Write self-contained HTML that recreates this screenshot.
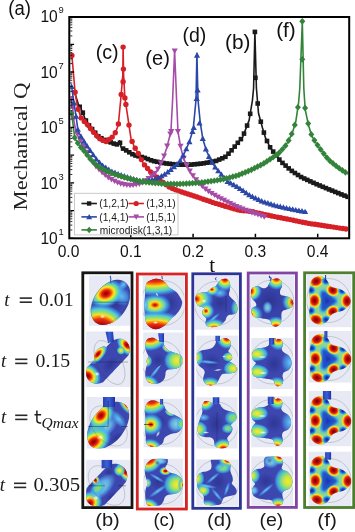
<!DOCTYPE html><html><head><meta charset="utf-8"><style>html,body{margin:0;padding:0;background:#fff;}svg{display:block;} text{opacity:0.999}</style></head><body><svg width="355" height="532" viewBox="0 0 355 532">
<defs>
<radialGradient id="gjet"><stop offset="0" stop-color="#780000"/><stop offset="0.12" stop-color="#b80808"/><stop offset="0.24" stop-color="#e42212"/><stop offset="0.34" stop-color="#fa7a08"/><stop offset="0.43" stop-color="#fcd418"/><stop offset="0.51" stop-color="#d8ec3c"/><stop offset="0.61" stop-color="#86dc74"/><stop offset="0.73" stop-color="#4ccad8"/><stop offset="0.86" stop-color="#48b0ee" stop-opacity="0.55"/><stop offset="1" stop-color="#4898e8" stop-opacity="0"/></radialGradient>
<radialGradient id="gjs"><stop offset="0" stop-color="#a80c0c"/><stop offset="0.1" stop-color="#e02a12"/><stop offset="0.2" stop-color="#fa8c0a"/><stop offset="0.3" stop-color="#f6e02a"/><stop offset="0.44" stop-color="#a6e262"/><stop offset="0.6" stop-color="#5ccfc4"/><stop offset="0.78" stop-color="#42a8f0" stop-opacity="0.7"/><stop offset="1" stop-color="#4090f0" stop-opacity="0"/></radialGradient>
<radialGradient id="gband"><stop offset="0" stop-color="#800000"/><stop offset="0.35" stop-color="#c00808"/><stop offset="0.5" stop-color="#e83010"/><stop offset="0.58" stop-color="#fa8a08"/><stop offset="0.65" stop-color="#f4e028"/><stop offset="0.74" stop-color="#90e070"/><stop offset="0.84" stop-color="#50c8d8"/><stop offset="0.93" stop-color="#40a0f0" stop-opacity="0.6"/><stop offset="1" stop-color="#4090f0" stop-opacity="0"/></radialGradient>
<radialGradient id="glite"><stop offset="0" stop-color="#88dcd8" stop-opacity="0.95"/><stop offset="0.5" stop-color="#6cc4f0" stop-opacity="0.8"/><stop offset="0.8" stop-color="#58a8f0" stop-opacity="0.4"/><stop offset="1" stop-color="#5090f0" stop-opacity="0"/></radialGradient>
<radialGradient id="gyel"><stop offset="0" stop-color="#f6ea30"/><stop offset="0.3" stop-color="#c8e448"/><stop offset="0.55" stop-color="#70d890"/><stop offset="0.8" stop-color="#40b8f0" stop-opacity="0.8"/><stop offset="1" stop-color="#40a0f0" stop-opacity="0"/></radialGradient>
<radialGradient id="ggrn"><stop offset="0" stop-color="#98da58"/><stop offset="0.4" stop-color="#68d4a0"/><stop offset="0.75" stop-color="#40b0f0" stop-opacity="0.7"/><stop offset="1" stop-color="#40a0f0" stop-opacity="0"/></radialGradient>
<radialGradient id="gcyan"><stop offset="0" stop-color="#68d0f8" stop-opacity="0.95"/><stop offset="0.6" stop-color="#50a8f0" stop-opacity="0.6"/><stop offset="1" stop-color="#4090f0" stop-opacity="0"/></radialGradient>
<radialGradient id="gwhite"><stop offset="0" stop-color="#ffffff" stop-opacity="0.95"/><stop offset="1" stop-color="#ffffff" stop-opacity="0"/></radialGradient>
<radialGradient id="gdark"><stop offset="0" stop-color="#24287c" stop-opacity="0.55"/><stop offset="1" stop-color="#24287c" stop-opacity="0"/></radialGradient>
<radialGradient id="gfred"><stop offset="0" stop-color="#700000"/><stop offset="0.28" stop-color="#b80a0a"/><stop offset="0.48" stop-color="#e42414"/><stop offset="0.62" stop-color="#fa8a08"/><stop offset="0.74" stop-color="#f6e028"/><stop offset="0.87" stop-color="#c8e450" stop-opacity="0.7"/><stop offset="1" stop-color="#b0e060" stop-opacity="0"/></radialGradient><filter id="bl1" x="-30%" y="-30%" width="160%" height="160%"><feGaussianBlur stdDeviation="0.9"/></filter>
<radialGradient id="gfblue"><stop offset="0" stop-color="#14208e"/><stop offset="0.35" stop-color="#2048c8"/><stop offset="0.62" stop-color="#2c90e8"/><stop offset="0.82" stop-color="#40c8e0" stop-opacity="0.8"/><stop offset="1" stop-color="#60d0c0" stop-opacity="0"/></radialGradient>
<linearGradient id="gstem" x1="0" x2="1"><stop offset="0" stop-color="#2a40b8"/><stop offset="0.5" stop-color="#3a60d8"/><stop offset="1" stop-color="#2030a0"/></linearGradient>
<clipPath id="plotclip"><rect x="70.3" y="18" width="277.9" height="219.3"/></clipPath></defs>
<rect width="355" height="532" fill="#fff"/>
<g clip-path="url(#plotclip)">
<g fill="#1a1a1a"><path d="M73.5,90.0 L76.1,97.0 L78.4,104.5 L82.3,111.3 L84.6,117.5 L87.0,123.0 L93.4,130.6 L98.4,136.4 L103.5,139.4 L106.9,141.0 L113.6,143.5 L117.4,144.5 L119.5,140.8 L121.2,147.5 L128.0,151.5 L133.9,155.1 L144.0,157.6 L152.7,160.9 L165.4,163.4 L178.0,164.7 L190.7,164.7 L203.4,163.4 L216.1,160.9 L225.0,157.2 L230.1,152.1 L236.4,144.5 L242.7,136.9 L249.1,120.4 L252.4,100.6 L253.6,88.0 L254.9,31.9 L256.4,88.0 L258.5,113.3 L262.5,128.0 L265.6,138.2 L270.6,148.3 L275.7,154.7 L280.8,161.4 L290.9,170.3 L301.0,177.0 L315.0,183.5 L328.0,189.0 L348.0,197.0" fill="none" stroke="#1a1a1a" stroke-width="1.6" stroke-linejoin="round"/><rect x="77.4" y="104.5" width="4.6" height="4.6"/><rect x="80.5" y="110.4" width="4.6" height="4.6"/><rect x="83.6" y="118.2" width="4.6" height="4.6"/><rect x="86.7" y="123.1" width="4.6" height="4.6"/><rect x="89.8" y="126.8" width="4.6" height="4.6"/><rect x="92.9" y="130.4" width="4.6" height="4.6"/><rect x="96.0" y="134.0" width="4.6" height="4.6"/><rect x="99.1" y="135.9" width="4.6" height="4.6"/><rect x="102.2" y="137.6" width="4.6" height="4.6"/><rect x="105.3" y="139.0" width="4.6" height="4.6"/><rect x="108.4" y="140.1" width="4.6" height="4.6"/><rect x="111.5" y="141.3" width="4.6" height="4.6"/><rect x="114.6" y="142.1" width="4.6" height="4.6"/><rect x="117.7" y="140.5" width="4.6" height="4.6"/><rect x="120.8" y="146.3" width="4.6" height="4.6"/><rect x="123.9" y="148.1" width="4.6" height="4.6"/><rect x="127.0" y="150.0" width="4.6" height="4.6"/><rect x="130.1" y="151.9" width="4.6" height="4.6"/><rect x="133.2" y="153.2" width="4.6" height="4.6"/><rect x="136.3" y="154.0" width="4.6" height="4.6"/><rect x="139.4" y="154.7" width="4.6" height="4.6"/><rect x="142.5" y="155.6" width="4.6" height="4.6"/><rect x="145.6" y="156.8" width="4.6" height="4.6"/><rect x="148.7" y="158.0" width="4.6" height="4.6"/><rect x="151.8" y="158.9" width="4.6" height="4.6"/><rect x="154.9" y="159.5" width="4.6" height="4.6"/><rect x="158.0" y="160.1" width="4.6" height="4.6"/><rect x="161.1" y="160.7" width="4.6" height="4.6"/><rect x="164.2" y="161.2" width="4.6" height="4.6"/><rect x="167.3" y="161.5" width="4.6" height="4.6"/><rect x="170.4" y="161.9" width="4.6" height="4.6"/><rect x="173.5" y="162.2" width="4.6" height="4.6"/><rect x="176.6" y="162.4" width="4.6" height="4.6"/><rect x="179.7" y="162.4" width="4.6" height="4.6"/><rect x="182.8" y="162.4" width="4.6" height="4.6"/><rect x="185.9" y="162.4" width="4.6" height="4.6"/><rect x="189.0" y="162.3" width="4.6" height="4.6"/><rect x="192.1" y="162.0" width="4.6" height="4.6"/><rect x="195.2" y="161.7" width="4.6" height="4.6"/><rect x="198.3" y="161.4" width="4.6" height="4.6"/><rect x="201.4" y="161.0" width="4.6" height="4.6"/><rect x="204.5" y="160.4" width="4.6" height="4.6"/><rect x="207.6" y="159.8" width="4.6" height="4.6"/><rect x="210.7" y="159.2" width="4.6" height="4.6"/><rect x="213.8" y="158.6" width="4.6" height="4.6"/><rect x="216.9" y="157.3" width="4.6" height="4.6"/><rect x="220.0" y="156.0" width="4.6" height="4.6"/><rect x="223.1" y="154.5" width="4.6" height="4.6"/><rect x="226.2" y="151.4" width="4.6" height="4.6"/><rect x="229.3" y="148.0" width="4.6" height="4.6"/><rect x="232.4" y="144.3" width="4.6" height="4.6"/><rect x="235.5" y="140.5" width="4.6" height="4.6"/><rect x="238.6" y="136.8" width="4.6" height="4.6"/><rect x="241.7" y="131.3" width="4.6" height="4.6"/><rect x="244.8" y="123.3" width="4.6" height="4.6"/><rect x="247.9" y="111.5" width="4.6" height="4.6"/><rect x="255.4" y="101.2" width="4.6" height="4.6"/><rect x="258.5" y="119.4" width="4.6" height="4.6"/><rect x="261.6" y="130.3" width="4.6" height="4.6"/><rect x="264.7" y="138.7" width="4.6" height="4.6"/><rect x="267.8" y="145.0" width="4.6" height="4.6"/><rect x="270.9" y="149.3" width="4.6" height="4.6"/><rect x="274.0" y="153.2" width="4.6" height="4.6"/><rect x="277.1" y="157.3" width="4.6" height="4.6"/><rect x="280.2" y="160.6" width="4.6" height="4.6"/><rect x="283.3" y="163.3" width="4.6" height="4.6"/><rect x="286.4" y="166.1" width="4.6" height="4.6"/><rect x="289.5" y="168.6" width="4.6" height="4.6"/><rect x="292.6" y="170.7" width="4.6" height="4.6"/><rect x="295.7" y="172.7" width="4.6" height="4.6"/><rect x="298.8" y="174.7" width="4.6" height="4.6"/><rect x="301.9" y="176.2" width="4.6" height="4.6"/><rect x="305.0" y="177.6" width="4.6" height="4.6"/><rect x="308.1" y="179.1" width="4.6" height="4.6"/><rect x="311.2" y="180.5" width="4.6" height="4.6"/><rect x="314.3" y="181.9" width="4.6" height="4.6"/><rect x="317.4" y="183.2" width="4.6" height="4.6"/><rect x="320.5" y="184.5" width="4.6" height="4.6"/><rect x="323.6" y="185.8" width="4.6" height="4.6"/><rect x="326.7" y="187.1" width="4.6" height="4.6"/><rect x="329.8" y="188.3" width="4.6" height="4.6"/><rect x="332.9" y="189.6" width="4.6" height="4.6"/><rect x="336.0" y="190.8" width="4.6" height="4.6"/><rect x="339.1" y="192.1" width="4.6" height="4.6"/><rect x="342.2" y="193.3" width="4.6" height="4.6"/><rect x="345.3" y="194.5" width="4.6" height="4.6"/><rect x="252.6" y="29.6" width="4.6" height="4.6"/><rect x="253.1" y="75.5" width="4.6" height="4.6"/></g>
<g fill="#d62027"><path d="M71.9,55.5 L75.1,92.3 L77.8,108.5 L81.2,117.9 L84.5,121.7 L88.3,125.5 L91.7,130.0 L95.9,135.1 L101.0,139.8 L106.0,141.5 L111.8,137.7 L115.5,132.5 L118.3,125.0 L121.2,94.5 L122.8,75.0 L123.1,47.1 L123.6,75.0 L124.9,97.9 L127.8,117.1 L131.0,138.7 L134.4,147.0 L139.0,154.7 L143.3,163.5 L150.1,171.4 L160.3,180.3 L170.4,187.9 L180.0,191.5 L196.9,196.9 L213.8,202.8 L230.7,207.9 L240.0,210.4 L250.4,211.2 L263.0,214.2 L275.7,216.8 L290.0,219.6 L307.5,223.2 L324.9,225.8 L348.0,229.3" fill="none" stroke="#d62027" stroke-width="1.6" stroke-linejoin="round"/><circle cx="78.1" cy="109.3" r="2.7"/><circle cx="81.2" cy="117.9" r="2.7"/><circle cx="84.3" cy="121.5" r="2.7"/><circle cx="87.4" cy="124.6" r="2.7"/><circle cx="90.5" cy="128.4" r="2.7"/><circle cx="93.6" cy="132.3" r="2.7"/><circle cx="96.7" cy="135.8" r="2.7"/><circle cx="99.8" cy="138.7" r="2.7"/><circle cx="102.9" cy="140.4" r="2.7"/><circle cx="106.0" cy="141.5" r="2.7"/><circle cx="109.1" cy="139.5" r="2.7"/><circle cx="112.2" cy="137.1" r="2.7"/><circle cx="115.3" cy="132.8" r="2.7"/><circle cx="118.4" cy="123.9" r="2.7"/><circle cx="125.9" cy="104.5" r="2.7"/><circle cx="129.0" cy="125.1" r="2.7"/><circle cx="132.1" cy="141.4" r="2.7"/><circle cx="135.2" cy="148.3" r="2.7"/><circle cx="138.3" cy="153.5" r="2.7"/><circle cx="141.4" cy="159.6" r="2.7"/><circle cx="144.5" cy="164.9" r="2.7"/><circle cx="147.6" cy="168.5" r="2.7"/><circle cx="150.7" cy="171.9" r="2.7"/><circle cx="153.8" cy="174.6" r="2.7"/><circle cx="156.9" cy="177.3" r="2.7"/><circle cx="160.0" cy="180.0" r="2.7"/><circle cx="163.1" cy="182.4" r="2.7"/><circle cx="166.2" cy="184.7" r="2.7"/><circle cx="169.3" cy="187.1" r="2.7"/><circle cx="172.4" cy="188.6" r="2.7"/><circle cx="175.5" cy="189.8" r="2.7"/><circle cx="178.6" cy="191.0" r="2.7"/><circle cx="181.7" cy="192.0" r="2.7"/><circle cx="184.8" cy="193.0" r="2.7"/><circle cx="187.9" cy="194.0" r="2.7"/><circle cx="191.0" cy="195.0" r="2.7"/><circle cx="194.1" cy="196.0" r="2.7"/><circle cx="197.2" cy="197.0" r="2.7"/><circle cx="200.3" cy="198.1" r="2.7"/><circle cx="203.4" cy="199.2" r="2.7"/><circle cx="206.5" cy="200.2" r="2.7"/><circle cx="209.6" cy="201.3" r="2.7"/><circle cx="212.7" cy="202.4" r="2.7"/><circle cx="215.8" cy="203.4" r="2.7"/><circle cx="218.9" cy="204.3" r="2.7"/><circle cx="222.0" cy="205.3" r="2.7"/><circle cx="225.1" cy="206.2" r="2.7"/><circle cx="228.2" cy="207.1" r="2.7"/><circle cx="231.3" cy="208.1" r="2.7"/><circle cx="234.4" cy="208.9" r="2.7"/><circle cx="237.5" cy="209.7" r="2.7"/><circle cx="240.6" cy="210.4" r="2.7"/><circle cx="243.7" cy="210.7" r="2.7"/><circle cx="246.8" cy="210.9" r="2.7"/><circle cx="249.9" cy="211.2" r="2.7"/><circle cx="253.0" cy="211.8" r="2.7"/><circle cx="256.1" cy="212.6" r="2.7"/><circle cx="259.2" cy="213.3" r="2.7"/><circle cx="262.3" cy="214.0" r="2.7"/><circle cx="265.4" cy="214.7" r="2.7"/><circle cx="268.5" cy="215.3" r="2.7"/><circle cx="271.6" cy="216.0" r="2.7"/><circle cx="274.7" cy="216.6" r="2.7"/><circle cx="277.8" cy="217.2" r="2.7"/><circle cx="280.9" cy="217.8" r="2.7"/><circle cx="284.0" cy="218.4" r="2.7"/><circle cx="287.1" cy="219.0" r="2.7"/><circle cx="290.2" cy="219.6" r="2.7"/><circle cx="293.3" cy="220.3" r="2.7"/><circle cx="296.4" cy="220.9" r="2.7"/><circle cx="299.5" cy="221.6" r="2.7"/><circle cx="302.6" cy="222.2" r="2.7"/><circle cx="305.7" cy="222.8" r="2.7"/><circle cx="308.8" cy="223.4" r="2.7"/><circle cx="311.9" cy="223.9" r="2.7"/><circle cx="315.0" cy="224.3" r="2.7"/><circle cx="318.1" cy="224.8" r="2.7"/><circle cx="321.2" cy="225.2" r="2.7"/><circle cx="324.3" cy="225.7" r="2.7"/><circle cx="327.4" cy="226.2" r="2.7"/><circle cx="330.5" cy="226.6" r="2.7"/><circle cx="333.6" cy="227.1" r="2.7"/><circle cx="336.7" cy="227.6" r="2.7"/><circle cx="339.8" cy="228.1" r="2.7"/><circle cx="342.9" cy="228.5" r="2.7"/><circle cx="346.0" cy="229.0" r="2.7"/><circle cx="71.9" cy="55.5" r="2.7"/><circle cx="75.1" cy="92.3" r="2.7"/><circle cx="123.1" cy="47.1" r="2.7"/><circle cx="123.4" cy="69.1" r="2.7"/><circle cx="123.1" cy="81.7" r="2.7"/><circle cx="121.2" cy="94.5" r="2.7"/><circle cx="124.9" cy="97.9" r="2.7"/></g>
<g fill="#a64ca8"><path d="M71.1,98.3 L72.8,107.3 L73.5,118.6 L75.6,129.5 L78.0,136.0 L82.4,144.5 L88.3,155.4 L95.0,165.5 L101.8,172.3 L110.3,179.0 L118.7,183.2 L125.5,184.9 L131.4,185.5 L141.5,183.5 L150.0,177.5 L155.2,173.0 L157.7,169.5 L160.3,164.7 L164.1,155.8 L166.6,148.2 L170.9,131.7 L172.6,100.0 L174.6,50.6 L176.6,100.0 L178.0,131.7 L180.6,146.9 L183.1,157.0 L186.9,165.9 L190.7,172.7 L198.3,182.8 L205.9,189.5 L210.4,192.7 L218.9,197.7 L227.3,202.0 L235.8,206.2 L240.0,207.9 L250.4,212.1 L265.6,217.2" fill="none" stroke="#a64ca8" stroke-width="1.6" stroke-linejoin="round"/><path d="M77.3,137.1 L80.4,131.7 L74.2,131.7Z"/><path d="M80.4,143.6 L83.5,138.2 L77.3,138.2Z"/><path d="M83.5,149.5 L86.6,144.1 L80.4,144.1Z"/><path d="M86.6,155.2 L89.7,149.8 L83.5,149.8Z"/><path d="M89.7,160.5 L92.8,155.1 L86.6,155.1Z"/><path d="M92.8,165.2 L95.9,159.8 L89.7,159.8Z"/><path d="M95.9,169.4 L99.0,164.0 L92.8,164.0Z"/><path d="M99.0,172.5 L102.1,167.1 L95.9,167.1Z"/><path d="M102.1,175.5 L105.2,170.1 L99.0,170.1Z"/><path d="M105.2,177.9 L108.3,172.5 L102.1,172.5Z"/><path d="M108.3,180.4 L111.4,175.0 L105.2,175.0Z"/><path d="M111.4,182.5 L114.5,177.1 L108.3,177.1Z"/><path d="M114.5,184.1 L117.6,178.7 L111.4,178.7Z"/><path d="M117.6,185.6 L120.7,180.2 L114.5,180.2Z"/><path d="M120.7,186.7 L123.8,181.3 L117.6,181.3Z"/><path d="M123.8,187.4 L126.9,182.0 L120.7,182.0Z"/><path d="M126.9,188.0 L130.0,182.6 L123.8,182.6Z"/><path d="M130.0,188.3 L133.1,182.9 L126.9,182.9Z"/><path d="M133.1,188.1 L136.2,182.7 L130.0,182.7Z"/><path d="M136.2,187.5 L139.3,182.1 L133.1,182.1Z"/><path d="M139.3,186.9 L142.4,181.5 L136.2,181.5Z"/><path d="M142.4,185.8 L145.5,180.4 L139.3,180.4Z"/><path d="M145.5,183.6 L148.6,178.2 L142.4,178.2Z"/><path d="M148.6,181.5 L151.7,176.1 L145.5,176.1Z"/><path d="M151.7,179.0 L154.8,173.6 L148.6,173.6Z"/><path d="M154.8,176.3 L157.9,170.9 L151.7,170.9Z"/><path d="M157.9,172.1 L161.0,166.7 L154.8,166.7Z"/><path d="M161.0,166.0 L164.1,160.6 L157.9,160.6Z"/><path d="M164.1,158.8 L167.2,153.4 L161.0,153.4Z"/><path d="M167.2,148.9 L170.3,143.5 L164.1,143.5Z"/><path d="M170.3,137.0 L173.4,131.6 L167.2,131.6Z"/><path d="M180.5,149.2 L183.6,143.8 L177.4,143.8Z"/><path d="M183.6,161.1 L186.7,155.7 L180.5,155.7Z"/><path d="M186.7,168.4 L189.8,163.0 L183.6,163.0Z"/><path d="M189.8,174.0 L192.9,168.6 L186.7,168.6Z"/><path d="M192.9,178.6 L196.0,173.2 L189.8,173.2Z"/><path d="M196.0,182.7 L199.1,177.3 L192.9,177.3Z"/><path d="M199.1,186.5 L202.2,181.1 L196.0,181.1Z"/><path d="M202.2,189.2 L205.3,183.8 L199.1,183.8Z"/><path d="M205.3,191.9 L208.4,186.5 L202.2,186.5Z"/><path d="M208.4,194.2 L211.5,188.8 L205.3,188.8Z"/><path d="M211.5,196.3 L214.6,190.9 L208.4,190.9Z"/><path d="M214.6,198.1 L217.7,192.7 L211.5,192.7Z"/><path d="M217.7,200.0 L220.8,194.6 L214.6,194.6Z"/><path d="M220.8,201.6 L223.9,196.2 L217.7,196.2Z"/><path d="M223.9,203.2 L227.0,197.8 L220.8,197.8Z"/><path d="M227.0,204.8 L230.1,199.4 L223.9,199.4Z"/><path d="M230.1,206.3 L233.2,200.9 L227.0,200.9Z"/><path d="M233.2,207.9 L236.3,202.5 L230.1,202.5Z"/><path d="M236.3,209.4 L239.4,204.0 L233.2,204.0Z"/><path d="M239.4,210.6 L242.5,205.2 L236.3,205.2Z"/><path d="M242.5,211.9 L245.6,206.5 L239.4,206.5Z"/><path d="M245.6,213.1 L248.7,207.7 L242.5,207.7Z"/><path d="M248.7,214.4 L251.8,209.0 L245.6,209.0Z"/><path d="M251.8,215.5 L254.9,210.1 L248.7,210.1Z"/><path d="M254.9,216.6 L258.0,211.2 L251.8,211.2Z"/><path d="M258.0,217.6 L261.1,212.2 L254.9,212.2Z"/><path d="M261.1,218.7 L264.2,213.3 L258.0,213.3Z"/><path d="M264.2,219.7 L267.3,214.3 L261.1,214.3Z"/><path d="M71.1,101.3 L74.2,95.9 L68.0,95.9Z"/><path d="M72.8,110.3 L75.9,104.9 L69.7,104.9Z"/><path d="M73.5,121.6 L76.6,116.2 L70.4,116.2Z"/><path d="M174.7,54.0 L177.8,48.6 L171.6,48.6Z"/><path d="M171.3,134.5 L174.4,129.1 L168.2,129.1Z"/><path d="M177.9,134.5 L181.0,129.1 L174.8,129.1Z"/></g>
<g fill="#2b47a8"><path d="M71.6,86.5 L73.9,102.8 L76.1,116.3 L78.1,131.7 L84.9,142.7 L90.0,150.3 L96.7,159.6 L103.5,166.3 L112.0,171.4 L120.4,174.8 L128.0,177.3 L140.0,180.8 L147.0,181.0 L155.2,179.0 L165.4,173.9 L173.0,167.6 L179.3,162.1 L184.4,153.2 L189.4,141.8 L193.2,129.2 L196.0,100.0 L196.9,53.2 L198.0,100.0 L200.3,122.8 L202.9,139.3 L206.4,150.7 L211.0,160.9 L216.1,168.5 L221.1,174.0 L227.3,181.3 L235.8,185.9 L240.0,188.5 L250.4,195.6 L263.0,201.6 L275.7,205.5 L290.0,208.8 L307.0,212.0" fill="none" stroke="#2b47a8" stroke-width="1.6" stroke-linejoin="round"/><path d="M77.8,126.4 L80.9,131.8 L74.7,131.8Z"/><path d="M80.9,133.3 L84.0,138.7 L77.8,138.7Z"/><path d="M84.0,138.3 L87.1,143.7 L80.9,143.7Z"/><path d="M87.1,143.0 L90.2,148.4 L84.0,148.4Z"/><path d="M90.2,147.6 L93.3,153.0 L87.1,153.0Z"/><path d="M93.3,151.9 L96.4,157.3 L90.2,157.3Z"/><path d="M96.4,156.2 L99.5,161.6 L93.3,161.6Z"/><path d="M99.5,159.4 L102.6,164.8 L96.4,164.8Z"/><path d="M102.6,162.4 L105.7,167.8 L99.5,167.8Z"/><path d="M105.7,164.6 L108.8,170.0 L102.6,170.0Z"/><path d="M108.8,166.5 L111.9,171.9 L105.7,171.9Z"/><path d="M111.9,168.4 L115.0,173.8 L108.8,173.8Z"/><path d="M115.0,169.6 L118.1,175.0 L111.9,175.0Z"/><path d="M118.1,170.9 L121.2,176.3 L115.0,176.3Z"/><path d="M121.2,172.1 L124.3,177.5 L118.1,177.5Z"/><path d="M124.3,173.1 L127.4,178.5 L121.2,178.5Z"/><path d="M127.4,174.1 L130.5,179.5 L124.3,179.5Z"/><path d="M130.5,175.1 L133.6,180.5 L127.4,180.5Z"/><path d="M133.6,176.0 L136.7,181.4 L130.5,181.4Z"/><path d="M136.7,176.9 L139.8,182.3 L133.6,182.3Z"/><path d="M139.8,177.8 L142.9,183.2 L136.7,183.2Z"/><path d="M142.9,177.9 L146.0,183.3 L139.8,183.3Z"/><path d="M146.0,178.0 L149.1,183.4 L142.9,183.4Z"/><path d="M149.1,177.5 L152.2,182.9 L146.0,182.9Z"/><path d="M152.2,176.8 L155.3,182.2 L149.1,182.2Z"/><path d="M155.3,176.0 L158.4,181.4 L152.2,181.4Z"/><path d="M158.4,174.4 L161.5,179.8 L155.3,179.8Z"/><path d="M161.5,172.9 L164.6,178.3 L158.4,178.3Z"/><path d="M164.6,171.3 L167.7,176.7 L161.5,176.7Z"/><path d="M167.7,169.0 L170.8,174.4 L164.6,174.4Z"/><path d="M170.8,166.5 L173.9,171.9 L167.7,171.9Z"/><path d="M173.9,163.8 L177.0,169.2 L170.8,169.2Z"/><path d="M177.0,161.1 L180.1,166.5 L173.9,166.5Z"/><path d="M180.1,157.7 L183.2,163.1 L177.0,163.1Z"/><path d="M183.2,152.3 L186.3,157.7 L180.1,157.7Z"/><path d="M186.3,145.9 L189.4,151.3 L183.2,151.3Z"/><path d="M189.4,138.8 L192.5,144.2 L186.3,144.2Z"/><path d="M192.5,128.6 L195.6,134.0 L189.4,134.0Z"/><path d="M202.8,135.6 L205.9,141.0 L199.7,141.0Z"/><path d="M205.9,146.1 L209.0,151.5 L202.8,151.5Z"/><path d="M209.0,153.5 L212.1,158.9 L205.9,158.9Z"/><path d="M212.1,159.6 L215.2,165.0 L209.0,165.0Z"/><path d="M215.2,164.2 L218.3,169.6 L212.1,169.6Z"/><path d="M218.3,167.9 L221.4,173.3 L215.2,173.3Z"/><path d="M221.4,171.4 L224.5,176.8 L218.3,176.8Z"/><path d="M224.5,175.0 L227.6,180.4 L221.4,180.4Z"/><path d="M227.6,178.5 L230.7,183.9 L224.5,183.9Z"/><path d="M230.7,180.2 L233.8,185.6 L227.6,185.6Z"/><path d="M233.8,181.8 L236.9,187.2 L230.7,187.2Z"/><path d="M236.9,183.6 L240.0,189.0 L233.8,189.0Z"/><path d="M240.0,185.5 L243.1,190.9 L236.9,190.9Z"/><path d="M243.1,187.6 L246.2,193.0 L240.0,193.0Z"/><path d="M246.2,189.8 L249.3,195.2 L243.1,195.2Z"/><path d="M249.3,191.9 L252.4,197.3 L246.2,197.3Z"/><path d="M252.4,193.6 L255.5,199.0 L249.3,199.0Z"/><path d="M255.5,195.1 L258.6,200.5 L252.4,200.5Z"/><path d="M258.6,196.5 L261.7,201.9 L255.5,201.9Z"/><path d="M261.7,198.0 L264.8,203.4 L258.6,203.4Z"/><path d="M264.8,199.2 L267.9,204.6 L261.7,204.6Z"/><path d="M267.9,200.1 L271.0,205.5 L264.8,205.5Z"/><path d="M271.0,201.1 L274.1,206.5 L267.9,206.5Z"/><path d="M274.1,202.0 L277.2,207.4 L271.0,207.4Z"/><path d="M277.2,202.9 L280.3,208.3 L274.1,208.3Z"/><path d="M280.3,203.6 L283.4,209.0 L277.2,209.0Z"/><path d="M283.4,204.3 L286.5,209.7 L280.3,209.7Z"/><path d="M286.5,205.0 L289.6,210.4 L283.4,210.4Z"/><path d="M289.6,205.7 L292.7,211.1 L286.5,211.1Z"/><path d="M292.7,206.3 L295.8,211.7 L289.6,211.7Z"/><path d="M295.8,206.9 L298.9,212.3 L292.7,212.3Z"/><path d="M298.9,207.5 L302.0,212.9 L295.8,212.9Z"/><path d="M302.0,208.1 L305.1,213.5 L298.9,213.5Z"/><path d="M305.1,208.7 L308.2,214.1 L302.0,214.1Z"/><path d="M71.6,83.5 L74.7,88.9 L68.5,88.9Z"/><path d="M73.9,99.8 L77.0,105.2 L70.8,105.2Z"/><path d="M76.1,113.3 L79.2,118.7 L73.0,118.7Z"/><path d="M197.0,52.3 L200.1,57.7 L193.9,57.7Z"/><path d="M197.6,87.1 L200.7,92.5 L194.5,92.5Z"/><path d="M196.7,95.6 L199.8,101.0 L193.6,101.0Z"/><path d="M193.8,124.7 L196.9,130.1 L190.7,130.1Z"/><path d="M199.5,120.0 L202.6,125.4 L196.4,125.4Z"/></g>
<g fill="#34833a"><path d="M71.6,113.5 L73.5,128.0 L74.8,138.5 L79.8,146.1 L84.9,152.0 L90.0,158.7 L96.7,165.5 L105.2,170.6 L113.6,173.9 L123.8,177.3 L131.4,179.2 L140.0,181.3 L152.7,182.8 L165.4,183.8 L178.0,184.1 L190.7,183.3 L203.4,182.3 L216.1,180.5 L225.0,178.8 L237.7,175.4 L250.4,170.3 L263.0,163.9 L273.2,157.2 L280.0,152.0 L285.9,145.2 L289.5,138.9 L292.8,131.4 L295.8,121.6 L298.7,101.8 L299.8,88.0 L302.3,21.3 L303.8,88.0 L305.2,109.7 L308.6,125.5 L311.6,135.4 L315.5,142.3 L320.4,149.2 L328.2,159.5 L338.0,167.5 L348.0,174.0" fill="none" stroke="#34833a" stroke-width="1.6" stroke-linejoin="round"/><path d="M71.6,110.1 L74.6,113.5 L71.6,116.9 L68.6,113.5Z"/><path d="M74.7,134.3 L77.7,137.7 L74.7,141.1 L71.7,137.7Z"/><path d="M77.8,139.7 L80.8,143.1 L77.8,146.4 L74.8,143.1Z"/><path d="M80.9,144.0 L83.9,147.4 L80.9,150.7 L77.9,147.4Z"/><path d="M84.0,147.6 L87.0,151.0 L84.0,154.3 L81.0,151.0Z"/><path d="M87.1,151.5 L90.1,154.9 L87.1,158.3 L84.1,154.9Z"/><path d="M90.2,155.5 L93.2,158.9 L90.2,162.3 L87.2,158.9Z"/><path d="M93.3,158.7 L96.3,162.0 L93.3,165.4 L90.3,162.0Z"/><path d="M96.4,161.8 L99.4,165.2 L96.4,168.6 L93.4,165.2Z"/><path d="M99.5,163.8 L102.5,167.2 L99.5,170.6 L96.5,167.2Z"/><path d="M102.6,165.7 L105.6,169.0 L102.6,172.4 L99.6,169.0Z"/><path d="M105.7,167.4 L108.7,170.8 L105.7,174.2 L102.7,170.8Z"/><path d="M108.8,168.6 L111.8,172.0 L108.8,175.4 L105.8,172.0Z"/><path d="M111.9,169.9 L114.9,173.2 L111.9,176.6 L108.9,173.2Z"/><path d="M115.0,171.0 L118.0,174.4 L115.0,177.7 L112.0,174.4Z"/><path d="M118.1,172.0 L121.1,175.4 L118.1,178.8 L115.1,175.4Z"/><path d="M121.2,173.1 L124.2,176.4 L121.2,179.8 L118.2,176.4Z"/><path d="M124.3,174.0 L127.3,177.4 L124.3,180.8 L121.3,177.4Z"/><path d="M127.4,174.8 L130.4,178.2 L127.4,181.6 L124.4,178.2Z"/><path d="M130.5,175.6 L133.5,179.0 L130.5,182.3 L127.5,179.0Z"/><path d="M133.6,176.4 L136.6,179.7 L133.6,183.1 L130.6,179.7Z"/><path d="M136.7,177.1 L139.7,180.5 L136.7,183.9 L133.7,180.5Z"/><path d="M139.8,177.9 L142.8,181.3 L139.8,184.6 L136.8,181.3Z"/><path d="M142.9,178.3 L145.9,181.6 L142.9,185.0 L139.9,181.6Z"/><path d="M146.0,178.6 L149.0,182.0 L146.0,185.4 L143.0,182.0Z"/><path d="M149.1,179.0 L152.1,182.4 L149.1,185.7 L146.1,182.4Z"/><path d="M152.2,179.4 L155.2,182.7 L152.2,186.1 L149.2,182.7Z"/><path d="M155.3,179.6 L158.3,183.0 L155.3,186.4 L152.3,183.0Z"/><path d="M158.4,179.9 L161.4,183.2 L158.4,186.6 L155.4,183.2Z"/><path d="M161.5,180.1 L164.5,183.5 L161.5,186.9 L158.5,183.5Z"/><path d="M164.6,180.4 L167.6,183.7 L164.6,187.1 L161.6,183.7Z"/><path d="M167.7,180.5 L170.7,183.9 L167.7,187.2 L164.7,183.9Z"/><path d="M170.8,180.6 L173.8,183.9 L170.8,187.3 L167.8,183.9Z"/><path d="M173.9,180.6 L176.9,184.0 L173.9,187.4 L170.9,184.0Z"/><path d="M177.0,180.7 L180.0,184.1 L177.0,187.5 L174.0,184.1Z"/><path d="M180.1,180.6 L183.1,184.0 L180.1,187.3 L177.1,184.0Z"/><path d="M183.2,180.4 L186.2,183.8 L183.2,187.1 L180.2,183.8Z"/><path d="M186.3,180.2 L189.3,183.6 L186.3,187.0 L183.3,183.6Z"/><path d="M189.4,180.0 L192.4,183.4 L189.4,186.8 L186.4,183.4Z"/><path d="M192.5,179.8 L195.5,183.2 L192.5,186.5 L189.5,183.2Z"/><path d="M195.6,179.5 L198.6,182.9 L195.6,186.3 L192.6,182.9Z"/><path d="M198.7,179.3 L201.7,182.7 L198.7,186.0 L195.7,182.7Z"/><path d="M201.8,179.1 L204.8,182.4 L201.8,185.8 L198.8,182.4Z"/><path d="M204.9,178.7 L207.9,182.1 L204.9,185.5 L201.9,182.1Z"/><path d="M208.0,178.3 L211.0,181.6 L208.0,185.0 L205.0,181.6Z"/><path d="M211.1,177.8 L214.1,181.2 L211.1,184.6 L208.1,181.2Z"/><path d="M214.2,177.4 L217.2,180.8 L214.2,184.1 L211.2,180.8Z"/><path d="M217.3,176.9 L220.3,180.3 L217.3,183.6 L214.3,180.3Z"/><path d="M220.4,176.3 L223.4,179.7 L220.4,183.1 L217.4,179.7Z"/><path d="M223.5,175.7 L226.5,179.1 L223.5,182.5 L220.5,179.1Z"/><path d="M226.6,175.0 L229.6,178.4 L226.6,181.7 L223.6,178.4Z"/><path d="M229.7,174.2 L232.7,177.5 L229.7,180.9 L226.7,177.5Z"/><path d="M232.8,173.3 L235.8,176.7 L232.8,180.1 L229.8,176.7Z"/><path d="M235.9,172.5 L238.9,175.9 L235.9,179.3 L232.9,175.9Z"/><path d="M239.0,171.5 L242.0,174.9 L239.0,178.3 L236.0,174.9Z"/><path d="M242.1,170.3 L245.1,173.6 L242.1,177.0 L239.1,173.6Z"/><path d="M245.2,169.0 L248.2,172.4 L245.2,175.8 L242.2,172.4Z"/><path d="M248.3,167.8 L251.3,171.1 L248.3,174.5 L245.3,171.1Z"/><path d="M251.4,166.4 L254.4,169.8 L251.4,173.2 L248.4,169.8Z"/><path d="M254.5,164.8 L257.5,168.2 L254.5,171.6 L251.5,168.2Z"/><path d="M257.6,163.3 L260.6,166.6 L257.6,170.0 L254.6,166.6Z"/><path d="M260.7,161.7 L263.7,165.1 L260.7,168.4 L257.7,165.1Z"/><path d="M263.8,160.0 L266.8,163.4 L263.8,166.7 L260.8,163.4Z"/><path d="M266.9,158.0 L269.9,161.3 L266.9,164.7 L263.9,161.3Z"/><path d="M270.0,155.9 L273.0,159.3 L270.0,162.7 L267.0,159.3Z"/><path d="M273.1,153.9 L276.1,157.3 L273.1,160.6 L270.1,157.3Z"/><path d="M276.2,151.5 L279.2,154.9 L276.2,158.3 L273.2,154.9Z"/><path d="M279.3,149.2 L282.3,152.5 L279.3,155.9 L276.3,152.5Z"/><path d="M282.4,145.9 L285.4,149.2 L282.4,152.6 L279.4,149.2Z"/><path d="M285.5,142.3 L288.5,145.7 L285.5,149.0 L282.5,145.7Z"/><path d="M288.6,137.1 L291.6,140.5 L288.6,143.9 L285.6,140.5Z"/><path d="M291.7,130.5 L294.7,133.9 L291.7,137.3 L288.7,133.9Z"/><path d="M294.8,121.5 L297.8,124.9 L294.8,128.2 L291.8,124.9Z"/><path d="M297.9,103.9 L300.9,107.3 L297.9,110.6 L294.9,107.3Z"/><path d="M305.1,104.6 L308.1,108.0 L305.1,111.4 L302.1,108.0Z"/><path d="M308.2,120.2 L311.2,123.6 L308.2,127.0 L305.2,123.6Z"/><path d="M311.3,131.0 L314.3,134.4 L311.3,137.8 L308.3,134.4Z"/><path d="M314.4,137.0 L317.4,140.3 L314.4,143.7 L311.4,140.3Z"/><path d="M317.5,141.7 L320.5,145.1 L317.5,148.5 L314.5,145.1Z"/><path d="M320.6,146.1 L323.6,149.5 L320.6,152.8 L317.6,149.5Z"/><path d="M323.7,150.2 L326.7,153.5 L323.7,156.9 L320.7,153.5Z"/><path d="M326.8,154.3 L329.8,157.6 L326.8,161.0 L323.8,157.6Z"/><path d="M329.9,157.5 L332.9,160.9 L329.9,164.3 L326.9,160.9Z"/><path d="M333.0,160.0 L336.0,163.4 L333.0,166.8 L330.0,163.4Z"/><path d="M336.1,162.6 L339.1,165.9 L336.1,169.3 L333.1,165.9Z"/><path d="M339.2,164.9 L342.2,168.3 L339.2,171.6 L336.2,168.3Z"/><path d="M342.3,166.9 L345.3,170.3 L342.3,173.7 L339.3,170.3Z"/><path d="M345.4,168.9 L348.4,172.3 L345.4,175.7 L342.4,172.3Z"/><path d="M302.3,17.9 L305.3,21.3 L302.3,24.7 L299.3,21.3Z"/><path d="M302.3,55.9 L305.3,59.3 L302.3,62.7 L299.3,59.3Z"/></g>
</g>
<rect x="69.3" y="17" width="279.9" height="221.3" fill="none" stroke="#000" stroke-width="2"/>
<path d="M70.3,238.3h3.8 M70.3,210.6h3.8 M70.3,182.9h3.8 M70.3,155.1h3.8 M70.3,127.4h3.8 M70.3,99.7h3.8 M70.3,72.0h3.8 M70.3,44.3h3.8" stroke="#000" stroke-width="1.3" fill="none"/>
<path d="M70.3,230.0h2 M70.3,225.1h2 M70.3,221.6h2 M70.3,218.9h2 M70.3,216.7h2 M70.3,214.9h2 M70.3,213.3h2 M70.3,211.8h2 M70.3,202.2h2 M70.3,197.4h2 M70.3,193.9h2 M70.3,191.2h2 M70.3,189.0h2 M70.3,187.2h2 M70.3,185.5h2 M70.3,184.1h2 M70.3,174.5h2 M70.3,169.6h2 M70.3,166.2h2 M70.3,163.5h2 M70.3,161.3h2 M70.3,159.4h2 M70.3,157.8h2 M70.3,156.4h2 M70.3,146.8h2 M70.3,141.9h2 M70.3,138.5h2 M70.3,135.8h2 M70.3,133.6h2 M70.3,131.7h2 M70.3,130.1h2 M70.3,128.7h2 M70.3,119.1h2 M70.3,114.2h2 M70.3,110.7h2 M70.3,108.0h2 M70.3,105.8h2 M70.3,104.0h2 M70.3,102.4h2 M70.3,101.0h2 M70.3,91.4h2 M70.3,86.5h2 M70.3,83.0h2 M70.3,80.3h2 M70.3,78.1h2 M70.3,76.3h2 M70.3,74.7h2 M70.3,73.2h2 M70.3,63.6h2 M70.3,58.8h2 M70.3,55.3h2 M70.3,52.6h2 M70.3,50.4h2 M70.3,48.6h2 M70.3,46.9h2 M70.3,45.5h2 M70.3,35.9h2 M70.3,31.0h2 M70.3,27.6h2 M70.3,24.9h2 M70.3,22.7h2 M70.3,20.8h2 M70.3,19.2h2 M70.3,17.8h2" stroke="#000" stroke-width="0.85" fill="none"/>
<path d="M130.8,237.3v-3.5 M193.1,237.3v-3.5 M255.4,237.3v-3.5 M317.7,237.3v-3.5" stroke="#000" stroke-width="1.5" fill="none"/>
<rect x="74.5" y="193.3" width="103.5" height="41.6" fill="#fff" stroke="#c4c4c4" stroke-width="0.9"/>
<g fill="#1a1a1a"><path d="M81.4,203.5H96.9" stroke="#1a1a1a" stroke-width="1.6"/><rect x="86.9" y="201.3" width="4.4" height="4.4"/></g>
<g fill="#d62027"><path d="M128.5,203.5H143.9" stroke="#d62027" stroke-width="1.6"/><circle cx="136.2" cy="203.5" r="2.6"/></g>
<g fill="#2b47a8"><path d="M81.4,216.9H96.9" stroke="#2b47a8" stroke-width="1.6"/><path d="M89.2,214.0 L92.1,219.2 L86.2,219.2Z"/></g>
<g fill="#a64ca8"><path d="M128.5,216.9H144" stroke="#a64ca8" stroke-width="1.6"/><path d="M136.2,219.8 L139.2,214.6 L133.3,214.6Z"/></g>
<g fill="#34833a"><path d="M81.4,229.9H96.9" stroke="#34833a" stroke-width="1.6"/><path d="M89.2,226.7 L92.0,229.9 L89.2,233.2 L86.3,229.9Z"/></g>
<g font-family="Liberation Sans, sans-serif" font-size="10.2" fill="#1a1a1a"><text x="99.3" y="207.3">(1,2,1)</text><text x="146.2" y="207.3">(1,3,1)</text><text x="99.3" y="220.7">(1,4,1)</text><text x="146.2" y="220.7">(1,5,1)</text><text x="99.8" y="233.7">microdisk(1,3,1)</text></g>
<g font-family="Liberation Sans, sans-serif" fill="#111">
<text x="57.8" y="22.2" font-size="15.6" text-anchor="end">10</text>
<text x="58.6" y="13.3" font-size="9.4">9</text>
<text x="57.8" y="77.7" font-size="15.6" text-anchor="end">10</text>
<text x="58.6" y="68.8" font-size="9.4">7</text>
<text x="57.8" y="133.1" font-size="15.6" text-anchor="end">10</text>
<text x="58.6" y="124.2" font-size="9.4">5</text>
<text x="57.8" y="188.6" font-size="15.6" text-anchor="end">10</text>
<text x="58.6" y="179.7" font-size="9.4">3</text>
<text x="57.8" y="244.0" font-size="15.6" text-anchor="end">10</text>
<text x="58.6" y="235.1" font-size="9.4">1</text>
<text x="68.5" y="256.6" font-size="15.6" text-anchor="middle">0.0</text>
<text x="130.8" y="256.6" font-size="15.6" text-anchor="middle">0.1</text>
<text x="193.1" y="256.6" font-size="15.6" text-anchor="middle">0.2</text>
<text x="255.4" y="256.6" font-size="15.6" text-anchor="middle">0.3</text>
<text x="317.7" y="256.6" font-size="15.6" text-anchor="middle">0.4</text>
</g>
<text x="8.3" y="15.0" font-family="Liberation Sans, sans-serif" font-size="20" fill="#111" textLength="22.6" lengthAdjust="spacingAndGlyphs">(a)</text>
<text x="95.7" y="59.4" font-family="Liberation Sans, sans-serif" font-size="21" fill="#111" textLength="23.0" lengthAdjust="spacingAndGlyphs">(c)</text>
<text x="145.3" y="64.8" font-family="Liberation Sans, sans-serif" font-size="21" fill="#111" textLength="24.6" lengthAdjust="spacingAndGlyphs">(e)</text>
<text x="182.4" y="42.1" font-family="Liberation Sans, sans-serif" font-size="21" fill="#111" textLength="23.9" lengthAdjust="spacingAndGlyphs">(d)</text>
<text x="225.0" y="49.2" font-family="Liberation Sans, sans-serif" font-size="21" fill="#111" textLength="25.4" lengthAdjust="spacingAndGlyphs">(b)</text>
<text x="276.2" y="37.4" font-family="Liberation Sans, sans-serif" font-size="21" fill="#111" textLength="19.6" lengthAdjust="spacingAndGlyphs">(f)</text>
<text transform="translate(27.2,210.4) rotate(-90)" font-family="Liberation Serif, serif" font-size="19.5" fill="#222" textLength="127.8" lengthAdjust="spacingAndGlyphs">Mechanical Q</text>
<text x="209.2" y="272.4" font-family="Liberation Serif, serif" font-size="21" fill="#111">t</text>
<rect x="89" y="275.5" width="41.0" height="50.3" fill="#e7eaf4"/>
<rect x="86.1" y="331.5" width="43.9" height="55.5" fill="#e7eaf4"/>
<rect x="86.8" y="397" width="43.2" height="51.5" fill="#e7eaf4"/>
<rect x="86.1" y="459.8" width="43.9" height="46.5" fill="#e7eaf4"/>
<rect x="142.6" y="275.8" width="41.8" height="54.3" fill="#e7eaf4"/>
<rect x="143.2" y="332.5" width="40.3" height="54.0" fill="#e7eaf4"/>
<rect x="143.6" y="398.7" width="39.2" height="48.6" fill="#e7eaf4"/>
<rect x="143.6" y="458.7" width="39.4" height="47.9" fill="#e7eaf4"/>
<rect x="194.8" y="275.8" width="44.4" height="53.9" fill="#e7eaf4"/>
<rect x="196.3" y="335.6" width="41.9" height="50.9" fill="#e7eaf4"/>
<rect x="196.3" y="397.2" width="41.2" height="51.3" fill="#e7eaf4"/>
<rect x="196.3" y="459.5" width="42.2" height="46.3" fill="#e7eaf4"/>
<rect x="249.8" y="275.3" width="44.6" height="52.0" fill="#e7eaf4"/>
<rect x="251.3" y="337.9" width="41.9" height="51.1" fill="#e7eaf4"/>
<rect x="251.3" y="396.4" width="41.7" height="50.9" fill="#e7eaf4"/>
<rect x="251.3" y="456.4" width="41.7" height="49.4" fill="#e7eaf4"/>
<rect x="306.5" y="275" width="44.8" height="52.2" fill="#e7eaf4"/>
<rect x="308.7" y="331" width="42.6" height="51.5" fill="#e7eaf4"/>
<rect x="308.7" y="391" width="42.6" height="55.2" fill="#e7eaf4"/>
<rect x="308.7" y="451.7" width="42.6" height="54.5" fill="#e7eaf4"/>
<clipPath id="dummy"><rect/></clipPath>
<clipPath id="cp_b1"><path d="M124.9,281.9 C126.7,283.1 128.1,285.0 129.1,287.1 C130.0,289.2 130.4,291.9 130.4,294.7 C130.3,297.4 129.7,300.5 128.7,303.4 C127.6,306.2 126.0,309.3 124.2,311.9 C122.4,314.5 120.0,317.1 117.7,319.0 C115.3,321.0 112.6,322.6 110.1,323.6 C107.6,324.6 104.9,325.1 102.6,325.0 C100.3,324.8 98.0,324.1 96.3,322.9 C94.5,321.7 93.1,319.8 92.1,317.7 C91.2,315.6 90.8,312.9 90.8,310.1 C90.9,307.4 91.5,304.3 92.5,301.4 C93.6,298.6 95.2,295.5 97.0,292.9 C98.8,290.3 101.2,287.7 103.5,285.8 C105.9,283.8 108.6,282.2 111.1,281.2 C113.6,280.2 116.3,279.7 118.6,279.8 C120.9,280.0 123.2,280.7 124.9,281.9Z"/></clipPath>
<clipPath id="bb_b1"><rect x="89" y="275.5" width="41.0" height="50.3"/></clipPath>
<g clip-path="url(#bb_b1)">

<g clip-path="url(#cp_b1)"><rect x="89" y="275.5" width="41.0" height="50.3" fill="#3c47b0"/><ellipse cx="116" cy="303" rx="12.0" ry="9.0" fill="url(#gdark)" transform="rotate(-52 116 303)"/><ellipse cx="121" cy="296" rx="9.1" ry="11.7" fill="url(#gcyan)" transform="rotate(-50 121 296)"/><ellipse cx="106" cy="293.5" rx="18.2" ry="13.65" fill="url(#gjet)" transform="rotate(-20 106 293.5)"/><ellipse cx="100" cy="334" rx="30.0" ry="30.0" fill="url(#gband)"/><ellipse cx="102.5" cy="316.5" rx="2.8" ry="2.0" fill="url(#gwhite)"/><ellipse cx="123.5" cy="284.5" rx="7.8" ry="4.55" fill="url(#gcyan)" transform="rotate(-50 123.5 284.5)"/></g>

<path d="M93,302.2H128" stroke="#1a2070" stroke-width="0.6" opacity="0.7"/><path d="M110.6,275.5c-1,2 1,3 0,5l0.3,3" stroke="#4060c0" stroke-width="1.2" fill="none"/><ellipse cx="110" cy="302" rx="24" ry="16" transform="rotate(-55 110 302)" fill="none" stroke="#444" stroke-width="0.4" opacity="0.5"/>
</g>
<clipPath id="cp_b2"><path d="M111.1,342.1 C115.3,337.8 112.8,340.6 113.8,340.0 C114.8,339.5 115.9,339.1 117.0,338.9 C118.1,338.7 119.3,338.6 120.4,338.8 C121.5,338.9 122.6,339.3 123.6,339.7 C124.6,340.2 125.6,340.9 126.4,341.6 C127.2,342.4 127.9,343.3 128.5,344.3 C129.0,345.3 129.4,346.4 129.6,347.5 C129.8,348.6 129.9,349.8 129.7,350.9 C129.6,352.0 129.2,353.1 128.8,354.1 C128.3,355.1 130.9,352.5 126.9,356.9 C122.8,361.3 108.8,376.2 104.7,380.4 C100.5,384.7 103.0,381.9 102.0,382.5 C101.0,383.0 99.9,383.4 98.8,383.6 C97.7,383.8 96.5,383.9 95.4,383.7 C94.3,383.6 93.2,383.2 92.2,382.8 C91.2,382.3 90.2,381.6 89.4,380.9 C88.6,380.1 87.9,379.2 87.3,378.2 C86.8,377.2 86.4,376.1 86.2,375.0 C86.0,373.9 85.9,372.7 86.1,371.6 C86.2,370.5 86.6,369.4 87.0,368.4 C87.5,367.4 84.9,370.0 88.9,365.6 C93.0,361.2 107.0,346.3 111.1,342.1Z"/><path d="M106.5,347.5 C107.0,347.9 107.4,348.6 107.7,349.3 C107.9,350.1 108.0,351.0 107.8,351.9 C107.7,352.8 107.4,353.8 107.0,354.8 C106.5,355.7 105.9,356.7 105.2,357.5 C104.5,358.4 103.7,359.2 102.8,359.8 C102.0,360.4 101.0,360.8 100.1,361.1 C99.2,361.4 98.3,361.5 97.6,361.4 C96.8,361.3 96.1,361.0 95.5,360.5 C95.0,360.1 94.6,359.4 94.3,358.7 C94.1,357.9 94.0,357.0 94.2,356.1 C94.3,355.2 94.6,354.2 95.0,353.2 C95.5,352.3 96.1,351.3 96.8,350.5 C97.5,349.6 98.3,348.8 99.2,348.2 C100.0,347.6 101.0,347.2 101.9,346.9 C102.8,346.6 103.7,346.5 104.4,346.6 C105.2,346.7 105.9,347.0 106.5,347.5Z"/></clipPath>
<clipPath id="bb_b2"><rect x="86.1" y="331.5" width="43.9" height="55.5"/></clipPath>
<g clip-path="url(#bb_b2)">

<g clip-path="url(#cp_b2)"><rect x="86.1" y="331.5" width="43.9" height="55.5" fill="#3c47b0"/><ellipse cx="110" cy="365" rx="10.0" ry="6.0" fill="url(#gdark)" transform="rotate(-45 110 365)"/><ellipse cx="127" cy="345" rx="8.45" ry="13.0" fill="url(#gjet)" transform="rotate(-40 127 345)"/><ellipse cx="120.5" cy="351" rx="2.5" ry="2.5" fill="url(#gwhite)"/><ellipse cx="98" cy="354" rx="13.0" ry="6.24" fill="url(#gjet)" transform="rotate(-50 98 354)"/><ellipse cx="88" cy="376" rx="11.7" ry="14.3" fill="url(#gjet)" transform="rotate(-45 88 376)"/><ellipse cx="97" cy="374" rx="3.0" ry="2.2" fill="url(#gwhite)"/><ellipse cx="121" cy="350.5" rx="4.35" ry="4.35" fill="url(#gyel)"/></g>
<path d="M105.5,331.5H113L114,342L108,343Z" fill="url(#gstem)"/>
<ellipse cx="109.5" cy="362.5" rx="12" ry="24" transform="rotate(-28 109.5 362.5)" fill="none" stroke="#444" stroke-width="0.4" opacity="0.55"/><path d="M88,362H128" stroke="#111" stroke-width="0.5" opacity="0.6"/>
</g>
<clipPath id="cp_b3"><path d="M124.7,404.2 C126.4,405.5 127.7,407.4 128.4,409.7 C129.1,411.9 129.4,414.7 129.1,417.5 C128.7,420.4 127.8,423.6 126.5,426.6 C125.2,429.6 123.3,432.8 121.2,435.5 C119.1,438.2 116.5,440.8 113.9,442.8 C111.3,444.8 108.4,446.4 105.7,447.4 C103.1,448.4 100.3,448.9 97.9,448.7 C95.6,448.5 93.4,447.7 91.7,446.4 C90.0,445.1 88.7,443.2 88.0,440.9 C87.3,438.7 87.0,435.9 87.3,433.1 C87.7,430.2 88.6,427.0 89.9,424.0 C91.2,421.0 93.1,417.8 95.2,415.1 C97.3,412.4 99.9,409.8 102.5,407.8 C105.1,405.8 108.0,404.2 110.7,403.2 C113.3,402.2 116.1,401.7 118.5,401.9 C120.8,402.1 123.0,402.9 124.7,404.2Z"/></clipPath>
<clipPath id="bb_b3"><rect x="86.8" y="397" width="43.2" height="51.5"/></clipPath>
<g clip-path="url(#bb_b3)">

<g clip-path="url(#cp_b3)"><rect x="86.8" y="397" width="43.2" height="51.5" fill="#3c47b0"/><ellipse cx="117" cy="438" rx="9.0" ry="5.0" fill="url(#gdark)" transform="rotate(-30 117 438)"/><ellipse cx="104" cy="428" rx="17.0" ry="9.0" fill="url(#glite)" transform="rotate(-40 104 428)"/><ellipse cx="96" cy="429" rx="11.6" ry="7.25" fill="url(#ggrn)" transform="rotate(-40 96 429)"/><ellipse cx="118.5" cy="419" rx="5.2" ry="11.7" fill="url(#gcyan)" transform="rotate(-40 118.5 419)"/><ellipse cx="101" cy="415.5" rx="15.6" ry="11.7" fill="url(#gjet)" transform="rotate(-50 101 415.5)"/><ellipse cx="93.5" cy="442" rx="19.5" ry="13.0" fill="url(#gjet)" transform="rotate(-35 93.5 442)"/><ellipse cx="100" cy="437.5" rx="3.5" ry="2.5" fill="url(#gwhite)"/><ellipse cx="127.5" cy="405" rx="6.5" ry="13.0" fill="url(#gjet)" transform="rotate(-40 127.5 405)" opacity="0.9"/></g>
<rect x="103" y="397" width="12" height="10" fill="url(#gstem)"/>
<path d="M88,426.5H108.2V401M121,426.5H128" stroke="#111" stroke-width="0.55" opacity="0.7" fill="none"/><ellipse cx="108.6" cy="426" rx="15" ry="23" transform="rotate(-40 108.6 426)" fill="none" stroke="#444" stroke-width="0.4" opacity="0.5"/>
</g>
<clipPath id="cp_b4"><path d="M106.1,467.5 C109.5,464.1 108.0,465.8 109.1,465.2 C110.2,464.6 111.5,464.1 112.7,463.9 C114.0,463.7 115.3,463.6 116.6,463.8 C117.8,464.0 119.1,464.3 120.3,464.9 C121.4,465.4 122.5,466.2 123.5,467.1 C124.4,467.9 125.2,469.0 125.8,470.1 C126.4,471.2 126.9,472.5 127.1,473.7 C127.3,475.0 127.4,476.3 127.2,477.6 C127.0,478.8 126.7,480.1 126.1,481.3 C125.6,482.4 127.2,480.8 123.9,484.5 C120.7,488.1 109.9,499.5 106.4,503.0 C103.0,506.4 104.5,504.7 103.4,505.3 C102.3,505.9 101.0,506.4 99.8,506.6 C98.5,506.8 97.2,506.9 95.9,506.7 C94.7,506.5 93.4,506.2 92.2,505.6 C91.1,505.1 90.0,504.3 89.0,503.4 C88.1,502.6 87.3,501.5 86.7,500.4 C86.1,499.3 85.6,498.0 85.4,496.8 C85.2,495.5 85.1,494.2 85.3,492.9 C85.5,491.7 85.8,490.4 86.4,489.2 C86.9,488.1 85.3,489.7 88.6,486.0 C91.8,482.4 102.6,471.0 106.1,467.5Z"/></clipPath>
<clipPath id="bb_b4"><rect x="86.1" y="459.8" width="43.9" height="46.5"/></clipPath>
<g clip-path="url(#bb_b4)">

<g clip-path="url(#cp_b4)"><rect x="86.1" y="459.8" width="43.9" height="46.5" fill="#3c47b0"/><ellipse cx="109" cy="472" rx="5.0" ry="5.0" fill="url(#gdark)"/><ellipse cx="111" cy="497" rx="8.0" ry="4.0" fill="url(#gdark)" transform="rotate(-45 111 497)"/><ellipse cx="125" cy="471.5" rx="6.5" ry="13.0" fill="url(#gjet)" transform="rotate(-30 125 471.5)"/><ellipse cx="119.5" cy="470.5" rx="5.8" ry="5.8" fill="url(#gyel)"/><ellipse cx="95" cy="479.5" rx="4.55" ry="9.75" fill="url(#gjet)" transform="rotate(-30 95 479.5)"/><ellipse cx="89.5" cy="503.5" rx="14.3" ry="11.7" fill="url(#gjet)" transform="rotate(-45 89.5 503.5)"/><ellipse cx="102" cy="487" rx="17.0" ry="9.0" fill="url(#glite)" transform="rotate(-45 102 487)"/><ellipse cx="98" cy="488" rx="8.7" ry="5.8" fill="url(#ggrn)" transform="rotate(-45 98 488)"/><ellipse cx="96" cy="498" rx="3.0" ry="2.2" fill="url(#gwhite)"/></g>
<rect x="101.6" y="459.8" width="10.6" height="8.5" fill="url(#gstem)"/>
<path d="M88,485.8H105M118,485.8H126" stroke="#111" stroke-width="0.5" opacity="0.7"/><ellipse cx="106.5" cy="485.5" rx="14" ry="23" transform="rotate(-40 106.5 485.5)" fill="none" stroke="#444" stroke-width="0.4" opacity="0.5"/>
</g>
<clipPath id="cp_c1"><path d="M147.8,281.8 C149.2,280.7 152.2,279.3 154.3,278.9 C156.5,278.5 158.8,278.7 160.7,279.4 C162.6,280.1 164.6,281.8 165.9,283.1 C167.2,284.4 166.8,285.5 168.5,287.0 C170.2,288.5 174.1,290.0 176.3,292.1 C178.5,294.2 180.5,298.0 181.5,299.9 C182.5,301.8 182.3,302.0 182.1,303.5 C181.9,305.0 181.2,307.2 180.2,309.0 C179.2,310.8 177.8,312.6 176.3,314.2 C174.8,315.8 172.8,317.0 171.1,318.7 C169.4,320.4 167.8,322.9 165.9,324.5 C164.0,326.1 161.6,327.8 159.4,328.5 C157.2,329.2 155.1,329.5 153.0,328.8 C150.9,328.1 148.4,326.3 147.1,324.5 C145.8,322.7 145.6,321.1 145.2,318.1 C144.8,315.1 144.5,310.7 144.5,306.4 C144.5,302.1 145.0,295.6 145.2,292.1 C145.4,288.7 145.4,287.4 145.8,285.7 C146.2,284.0 146.4,282.9 147.8,281.8Z"/></clipPath>
<clipPath id="bb_c1"><rect x="142.6" y="275.8" width="41.8" height="54.3"/></clipPath>
<g clip-path="url(#bb_c1)">
<circle cx="163" cy="303" r="22.5" fill="none" stroke="#444" stroke-width="0.4" opacity="0.55"/>
<g clip-path="url(#cp_c1)"><rect x="142.6" y="275.8" width="41.8" height="54.3" fill="#3c47b0"/><ellipse cx="170" cy="303" rx="9.0" ry="10.0" fill="url(#gdark)"/><ellipse cx="154" cy="268" rx="45.0" ry="28.0" fill="url(#gband)"/><ellipse cx="155" cy="305" rx="16.25" ry="11.05" fill="url(#gjs)"/><ellipse cx="155" cy="337" rx="42.0" ry="26.0" fill="url(#gband)"/><ellipse cx="155.5" cy="322.5" rx="3.0" ry="1.5" fill="url(#gwhite)"/><ellipse cx="145.5" cy="305" rx="3.25" ry="6.5" fill="url(#gcyan)"/><ellipse cx="157" cy="294.5" rx="1.2" ry="2.5" fill="url(#gwhite)" transform="rotate(-30 157 294.5)"/></g>

<path d="M161.8,275.8l0.6,3.5" stroke="#223" stroke-width="0.8"/>
</g>
<clipPath id="cp_c2"><path d="M156.8,339.7 C155.6,339.2 154.4,338.0 153.0,337.8 C151.6,337.6 149.6,337.8 148.4,338.4 C147.2,339.0 146.3,340.3 145.8,341.7 C145.3,343.1 145.1,345.1 145.2,346.8 C145.3,348.5 146.0,350.5 146.5,352.0 C147.0,353.5 148.2,354.9 148.4,355.9 C148.6,356.9 148.1,357.0 147.8,357.9 C147.5,358.8 146.6,360.0 146.5,361.1 C146.4,362.2 147.2,363.0 147.1,364.3 C147.0,365.6 146.1,367.3 145.8,368.9 C145.5,370.5 145.1,372.3 145.2,374.1 C145.3,375.9 145.6,378.4 146.5,379.9 C147.4,381.4 148.9,382.5 150.4,383.1 C151.9,383.8 153.8,383.9 155.5,383.8 C157.2,383.7 159.3,383.3 160.7,382.5 C162.1,381.7 163.2,380.4 164.0,379.2 C164.8,378.0 165.0,376.7 165.3,375.4 C165.6,374.1 165.4,372.5 165.9,371.5 C166.4,370.5 167.2,369.9 168.5,369.5 C169.8,369.1 172.0,369.2 173.7,368.9 C175.4,368.6 177.5,368.5 178.9,367.6 C180.3,366.7 181.4,364.9 182.1,363.7 C182.8,362.5 182.9,361.7 182.8,360.5 C182.7,359.3 182.3,357.7 181.5,356.6 C180.7,355.5 179.7,354.8 178.2,354.0 C176.7,353.2 174.2,352.8 172.4,352.0 C170.6,351.2 168.6,350.6 167.2,349.4 C165.8,348.2 164.7,346.2 164.0,344.9 C163.3,343.6 164.0,342.3 163.3,341.7 C162.6,341.1 161.1,341.3 160.0,341.0 C158.9,340.7 158.0,340.2 156.8,339.7Z"/></clipPath>
<clipPath id="bb_c2"><rect x="143.2" y="332.5" width="40.3" height="54.0"/></clipPath>
<g clip-path="url(#bb_c2)">
<circle cx="161.5" cy="361" r="20" fill="none" stroke="#444" stroke-width="0.4" opacity="0.55"/>
<g clip-path="url(#cp_c2)"><rect x="143.2" y="332.5" width="40.3" height="54.0" fill="#3c47b0"/><ellipse cx="158" cy="360" rx="8.0" ry="8.0" fill="url(#gdark)"/><ellipse cx="150" cy="330" rx="20.0" ry="21.0" fill="url(#gband)"/><ellipse cx="146.5" cy="361" rx="5.8" ry="6.52" fill="url(#gyel)"/><ellipse cx="177" cy="360.5" rx="13.05" ry="12.32" fill="url(#gyel)"/><ellipse cx="184" cy="361" rx="5.2" ry="7.8" fill="url(#gjs)" opacity="0.9"/><ellipse cx="167" cy="348.5" rx="6.5" ry="3.9" fill="url(#gjs)" transform="rotate(35 167 348.5)"/><ellipse cx="147" cy="385.5" rx="12.35" ry="10.4" fill="url(#gjet)"/><ellipse cx="158" cy="368" rx="5.0" ry="0.9" fill="url(#gwhite)" transform="rotate(-45 158 368)"/><ellipse cx="155" cy="372" rx="9.1" ry="1.95" fill="url(#gcyan)" transform="rotate(-50 155 372)"/></g>
<path d="M158.1,333.2H164V342H159.4Z" fill="url(#gstem)"/>

</g>
<clipPath id="cp_c3"><path d="M159.4,402.8 C158.3,402.4 157.0,401.1 155.5,400.8 C154.0,400.5 151.9,400.2 150.4,400.8 C148.9,401.4 147.4,402.7 146.5,404.1 C145.6,405.5 145.1,407.4 144.9,409.3 C144.7,411.2 145.0,413.8 145.2,415.7 C145.3,417.6 145.8,419.4 145.8,420.9 C145.8,422.4 145.3,423.1 145.2,424.8 C145.1,426.5 145.1,429.4 145.2,431.3 C145.3,433.2 145.7,435.0 145.8,436.5 C145.9,438.0 145.6,439.1 145.8,440.4 C146.0,441.7 146.1,443.1 147.1,444.2 C148.1,445.3 149.9,446.5 151.7,446.8 C153.5,447.1 156.3,446.8 158.1,446.2 C159.9,445.6 161.7,444.2 162.7,443.0 C163.7,441.8 163.5,440.2 164.0,439.1 C164.5,438.0 164.7,437.4 165.9,436.5 C167.1,435.6 169.2,434.5 171.1,433.9 C173.0,433.2 175.9,433.5 177.6,432.6 C179.3,431.7 180.6,430.2 181.5,428.7 C182.4,427.2 182.8,425.1 182.8,423.5 C182.8,421.9 182.6,420.3 181.5,419.0 C180.4,417.7 178.2,416.7 176.3,415.7 C174.4,414.7 171.5,414.2 169.8,413.1 C168.1,412.0 166.9,410.6 165.9,409.3 C164.9,408.0 164.7,406.4 164.0,405.4 C163.3,404.4 162.8,403.9 162.0,403.5 C161.2,403.1 160.5,403.2 159.4,402.8Z"/></clipPath>
<clipPath id="bb_c3"><rect x="143.6" y="398.7" width="39.2" height="48.6"/></clipPath>
<g clip-path="url(#bb_c3)">
<circle cx="162" cy="423.5" r="21" fill="none" stroke="#444" stroke-width="0.4" opacity="0.55"/>
<g clip-path="url(#cp_c3)"><rect x="143.6" y="398.7" width="39.2" height="48.6" fill="#3c47b0"/><ellipse cx="160" cy="422" rx="8.0" ry="8.0" fill="url(#gdark)"/><ellipse cx="151" cy="392" rx="20.0" ry="23.0" fill="url(#gband)"/><ellipse cx="150.8" cy="424.5" rx="12.35" ry="11.05" fill="url(#gjs)"/><ellipse cx="150" cy="449" rx="12.35" ry="10.4" fill="url(#gjet)"/><ellipse cx="176" cy="424" rx="9.0" ry="9.0" fill="url(#glite)"/><ellipse cx="181" cy="424" rx="4.35" ry="7.25" fill="url(#ggrn)"/><ellipse cx="170" cy="412.5" rx="5.8" ry="3.62" fill="url(#gyel)" transform="rotate(25 170 412.5)"/><ellipse cx="158" cy="434" rx="1.5" ry="3.5" fill="url(#gwhite)" transform="rotate(30 158 434)"/></g>
<rect x="160.1" y="398.9" width="3" height="5.6" fill="url(#gstem)"/>
<path d="M144,424.5H153" stroke="#111" stroke-width="0.6"/>
</g>
<clipPath id="cp_c4"><path d="M154.3,458.9 C155.8,458.6 157.5,458.3 159.4,458.2 C161.3,458.1 164.5,457.9 165.9,458.2 C167.3,458.5 167.7,459.2 167.9,460.2 C168.1,461.2 167.6,462.9 167.2,464.1 C166.8,465.3 165.5,466.4 165.3,467.3 C165.1,468.2 165.2,468.4 165.9,469.3 C166.7,470.2 168.1,471.6 169.8,472.5 C171.5,473.4 174.5,473.5 176.3,474.4 C178.1,475.3 179.7,476.3 180.8,477.7 C181.9,479.1 182.6,481.3 182.8,482.9 C183.0,484.5 182.8,485.9 182.1,487.4 C181.4,488.9 180.3,490.8 178.9,491.9 C177.5,493.0 175.6,493.3 173.7,493.9 C171.8,494.4 168.7,494.5 167.2,495.2 C165.7,495.9 165.2,496.7 164.6,497.8 C163.9,498.9 164.2,500.3 163.3,501.6 C162.4,502.9 161.9,504.9 159.4,505.5 C156.9,506.1 150.7,506.4 148.4,505.5 C146.1,504.6 146.3,502.3 145.8,500.4 C145.3,498.5 145.2,495.8 145.2,493.9 C145.2,491.9 145.4,490.5 145.8,488.7 C146.2,486.9 147.7,484.4 147.8,482.9 C147.9,481.4 146.9,481.0 146.5,479.6 C146.1,478.2 145.5,476.1 145.2,474.4 C144.9,472.7 144.7,471.0 144.9,469.3 C145.1,467.6 145.6,465.6 146.5,464.1 C147.4,462.6 149.1,461.1 150.4,460.2 C151.7,459.3 152.8,459.2 154.3,458.9Z"/></clipPath>
<clipPath id="bb_c4"><rect x="143.6" y="458.7" width="39.4" height="47.9"/></clipPath>
<g clip-path="url(#bb_c4)">
<circle cx="163" cy="484" r="20" fill="none" stroke="#444" stroke-width="0.4" opacity="0.55"/>
<g clip-path="url(#cp_c4)"><rect x="143.6" y="458.7" width="39.4" height="47.9" fill="#3c47b0"/><ellipse cx="158" cy="482" rx="8.0" ry="8.0" fill="url(#gdark)"/><ellipse cx="148" cy="453" rx="16.0" ry="20.0" fill="url(#gband)"/><ellipse cx="160.5" cy="461" rx="7.0" ry="4.0" fill="url(#glite)"/><ellipse cx="157.5" cy="463" rx="2.5" ry="2.5" fill="url(#gdark)"/><ellipse cx="165.5" cy="471" rx="6.5" ry="4.55" fill="url(#gjet)"/><ellipse cx="176.5" cy="484.5" rx="13.05" ry="12.32" fill="url(#gyel)"/><ellipse cx="183" cy="485" rx="5.2" ry="7.8" fill="url(#gjs)" opacity="0.9"/><ellipse cx="146.5" cy="483" rx="5.08" ry="5.08" fill="url(#gyel)"/><ellipse cx="147.5" cy="508.5" rx="12.35" ry="10.4" fill="url(#gjet)"/><ellipse cx="158" cy="491" rx="11.7" ry="2.34" fill="url(#gcyan)" transform="rotate(-35 158 491)"/><ellipse cx="157" cy="478" rx="9.1" ry="1.95" fill="url(#gcyan)" transform="rotate(30 157 478)"/></g>


</g>
<clipPath id="cp_d1"><path d="M217.6,283.4 C218.5,282.4 220.0,280.4 221.4,279.6 C222.8,278.8 224.7,278.6 226.0,278.8 C227.3,279.1 228.3,280.1 229.0,281.1 C229.7,282.1 230.1,283.4 230.2,284.9 C230.3,286.4 230.0,288.6 229.8,290.3 C229.6,292.0 228.8,293.5 229.0,294.8 C229.2,296.1 230.4,296.9 231.3,297.9 C232.2,298.9 233.5,299.8 234.4,300.9 C235.3,302.0 236.1,303.3 236.6,304.7 C237.1,306.1 237.5,307.9 237.4,309.3 C237.3,310.7 236.7,312.2 235.9,313.1 C235.1,314.0 234.0,314.3 232.8,314.6 C231.7,314.9 230.0,314.5 229.0,314.9 C228.0,315.3 227.3,315.9 226.7,316.9 C226.1,317.9 225.9,319.6 225.2,320.7 C224.4,321.8 223.3,322.8 222.2,323.7 C221.1,324.6 219.8,325.4 218.4,326.0 C217.0,326.6 215.3,327.0 213.8,327.1 C212.3,327.2 210.6,327.1 209.3,326.8 C208.0,326.5 206.8,326.0 206.2,325.2 C205.6,324.4 205.5,323.3 205.5,322.2 C205.5,321.1 206.5,319.4 206.2,318.4 C205.9,317.4 204.5,316.9 203.9,316.1 C203.3,315.3 202.7,314.7 202.4,313.8 C202.2,312.9 202.0,311.7 202.4,310.8 C202.8,309.9 204.8,309.1 204.7,308.5 C204.6,307.9 202.8,307.5 201.6,307.0 C200.4,306.5 198.8,306.4 197.8,305.5 C196.9,304.6 196.3,303.1 195.9,301.7 C195.5,300.3 195.3,298.4 195.6,297.1 C195.9,295.8 196.7,294.9 197.8,294.1 C198.9,293.3 200.9,292.8 202.4,292.5 C203.9,292.2 205.8,292.5 207.0,292.1 C208.2,291.7 208.6,290.7 209.3,290.0 C210.1,289.3 210.8,288.5 211.5,288.0 C212.2,287.5 213.0,287.6 213.8,287.2 C214.6,286.8 215.5,286.3 216.1,285.7 C216.7,285.1 216.7,284.4 217.6,283.4Z"/></clipPath>
<clipPath id="bb_d1"><rect x="194.8" y="275.8" width="44.4" height="53.9"/></clipPath>
<g clip-path="url(#bb_d1)">
<circle cx="216.5" cy="303.5" r="22" fill="none" stroke="#444" stroke-width="0.4" opacity="0.55"/>
<g clip-path="url(#cp_d1)"><rect x="194.8" y="275.8" width="44.4" height="53.9" fill="#3c47b0"/><ellipse cx="220" cy="303" rx="10.0" ry="10.0" fill="url(#gdark)"/><ellipse cx="220" cy="293" rx="7.8" ry="5.2" fill="url(#gcyan)"/><ellipse cx="225" cy="277.5" rx="11.05" ry="13.65" fill="url(#gjet)"/><ellipse cx="196" cy="299" rx="17.55" ry="14.95" fill="url(#gjs)"/><ellipse cx="204" cy="301" rx="2.5" ry="2.0" fill="url(#gwhite)"/><ellipse cx="212" cy="289.5" rx="7.8" ry="6.5" fill="url(#gjs)"/><ellipse cx="206" cy="311" rx="8.45" ry="8.45" fill="url(#gjs)"/><ellipse cx="214" cy="330.5" rx="14.3" ry="12.35" fill="url(#gjet)"/><ellipse cx="238" cy="308" rx="7.25" ry="10.15" fill="url(#ggrn)"/><ellipse cx="214" cy="318" rx="7.8" ry="1.95" fill="url(#gcyan)" transform="rotate(-40 214 318)"/></g>

<path d="M216.5,277.5c-1.5,0 -1.5,2.5 0,2.5" stroke="#2030a0" stroke-width="0.9" fill="none"/><path d="M226,296V312" stroke="#141c60" stroke-width="0.6" opacity="0.6"/>
</g>
<clipPath id="cp_d2"><path d="M219.9,340.2 C221.1,339.8 222.4,338.6 223.7,338.4 C225.0,338.1 226.4,338.3 227.5,338.7 C228.6,339.1 229.6,340.0 230.2,341.0 C230.8,342.0 231.0,343.5 230.9,344.8 C230.8,346.1 230.2,347.6 229.8,348.6 C229.4,349.6 228.3,350.1 228.3,350.9 C228.3,351.6 229.2,352.4 229.8,353.1 C230.4,353.9 231.4,354.5 231.8,355.4 C232.2,356.3 232.3,357.6 232.1,358.5 C231.9,359.4 230.9,360.1 230.5,360.7 C230.1,361.2 229.5,361.4 229.8,361.8 C230.1,362.2 231.2,362.4 232.1,363.0 C233.0,363.6 234.3,364.4 235.1,365.3 C235.8,366.2 236.5,367.4 236.6,368.4 C236.7,369.4 236.5,370.6 235.9,371.4 C235.3,372.1 234.2,372.6 232.8,372.9 C231.4,373.2 229.2,373.2 227.5,373.4 C225.8,373.6 224.0,373.6 222.9,374.0 C221.8,374.4 221.3,375.2 220.7,376.0 C220.1,376.8 219.7,377.9 219.1,379.0 C218.5,380.1 217.9,381.8 216.9,382.8 C215.9,383.8 214.5,384.7 213.1,385.1 C211.7,385.5 209.9,385.5 208.5,385.1 C207.1,384.7 205.6,383.8 204.7,382.8 C203.8,381.8 203.3,380.3 203.2,379.0 C203.1,377.7 203.7,376.3 203.9,375.2 C204.2,374.1 204.8,373.2 204.7,372.2 C204.6,371.2 204.0,370.0 203.2,369.1 C202.4,368.2 201.0,367.7 200.1,366.8 C199.2,365.9 198.4,365.1 197.8,363.8 C197.2,362.5 196.9,360.7 196.8,359.2 C196.7,357.7 196.7,356.0 197.1,354.7 C197.5,353.4 198.4,352.4 199.4,351.6 C200.4,350.8 201.8,350.5 203.2,350.1 C204.6,349.7 206.2,349.7 207.7,349.3 C209.2,348.9 211.0,348.7 212.3,347.8 C213.6,346.9 214.6,345.2 215.3,344.0 C216.0,342.8 215.7,341.1 216.5,340.5 C217.3,339.9 218.7,340.6 219.9,340.2Z"/></clipPath>
<clipPath id="bb_d2"><rect x="196.3" y="335.6" width="41.9" height="50.9"/></clipPath>
<g clip-path="url(#bb_d2)">
<circle cx="217" cy="362" r="22" fill="none" stroke="#444" stroke-width="0.4" opacity="0.55"/>
<g clip-path="url(#cp_d2)"><rect x="196.3" y="335.6" width="41.9" height="50.9" fill="#3c47b0"/><ellipse cx="212" cy="362" rx="9.0" ry="9.0" fill="url(#gdark)"/><ellipse cx="227" cy="337" rx="11.05" ry="12.35" fill="url(#gjet)"/><ellipse cx="196" cy="357.5" rx="7.25" ry="9.42" fill="url(#gyel)"/><ellipse cx="229.5" cy="357" rx="7.25" ry="5.08" fill="url(#gyel)"/><ellipse cx="224" cy="356.5" rx="2.0" ry="1.2" fill="url(#gwhite)"/><ellipse cx="233.5" cy="368.5" rx="10.15" ry="7.97" fill="url(#gyel)"/><ellipse cx="218" cy="370" rx="4.5" ry="1.2" fill="url(#gwhite)" transform="rotate(-10 218 370)"/><ellipse cx="210" cy="389" rx="13.0" ry="12.35" fill="url(#gjet)"/><ellipse cx="208" cy="362" rx="11.7" ry="1.95" fill="url(#gcyan)" transform="rotate(5 208 362)"/></g>
<rect x="215.4" y="335.6" width="4.5" height="5.5" fill="url(#gstem)"/>

</g>
<clipPath id="cp_d3"><path d="M206.2,401.0 C205.3,401.1 204.6,401.2 203.9,402.2 C203.2,403.1 202.2,405.2 202.0,406.7 C201.8,408.2 202.5,409.9 202.4,411.3 C202.3,412.7 202.1,413.6 201.6,415.1 C201.1,416.6 200.0,418.5 199.4,420.4 C198.8,422.3 198.1,424.6 197.8,426.5 C197.5,428.4 197.4,430.3 197.8,431.8 C198.2,433.3 198.8,434.7 200.1,435.6 C201.4,436.5 203.7,436.9 205.5,437.2 C207.3,437.5 209.4,437.0 210.8,437.5 C212.2,438.0 213.2,439.0 213.8,440.2 C214.4,441.4 214.0,443.5 214.6,444.8 C215.2,446.1 216.2,447.2 217.6,447.8 C219.0,448.4 221.2,448.8 222.9,448.6 C224.6,448.4 226.5,447.6 227.5,446.6 C228.5,445.6 228.8,443.8 228.7,442.5 C228.6,441.2 227.1,439.8 227.2,438.7 C227.2,437.6 228.2,436.8 229.0,435.6 C229.8,434.5 231.2,433.1 231.8,431.8 C232.4,430.5 232.6,429.1 232.4,428.0 C232.2,426.9 230.8,426.2 230.9,425.3 C231.0,424.4 232.0,423.6 232.8,422.7 C233.6,421.8 235.3,420.8 235.9,419.7 C236.5,418.6 236.6,417.0 236.3,415.9 C236.1,414.8 235.5,413.6 234.4,412.8 C233.3,412.0 231.3,411.8 229.8,411.3 C228.3,410.8 226.6,410.6 225.2,409.8 C223.8,409.0 222.3,407.7 221.4,406.7 C220.5,405.7 221.1,404.6 219.6,404.0 C218.1,403.4 214.0,403.8 212.3,403.4 C210.6,403.0 210.3,401.8 209.3,401.4 C208.3,401.0 207.1,400.9 206.2,401.0Z"/></clipPath>
<clipPath id="bb_d3"><rect x="196.3" y="397.2" width="41.2" height="51.3"/></clipPath>
<g clip-path="url(#bb_d3)">
<circle cx="216.5" cy="424" r="22" fill="none" stroke="#444" stroke-width="0.4" opacity="0.55"/>
<g clip-path="url(#cp_d3)"><rect x="196.3" y="397.2" width="41.2" height="51.3" fill="#3c47b0"/><ellipse cx="216" cy="424" rx="9.0" ry="12.0" fill="url(#gdark)"/><ellipse cx="205" cy="399.5" rx="10.4" ry="11.7" fill="url(#gjet)"/><ellipse cx="197.5" cy="429.5" rx="10.15" ry="8.7" fill="url(#gyel)"/><ellipse cx="206" cy="432.5" rx="3.5" ry="1.3" fill="url(#gwhite)"/><ellipse cx="203.5" cy="417.5" rx="6.5" ry="3.9" fill="url(#gcyan)"/><ellipse cx="233" cy="418" rx="8.7" ry="7.97" fill="url(#ggrn)"/><ellipse cx="228" cy="428.5" rx="6.52" ry="5.08" fill="url(#ggrn)"/><ellipse cx="223.5" cy="450" rx="12.35" ry="11.7" fill="url(#gjet)"/></g>
<rect x="212.8" y="396.9" width="6.5" height="7" fill="url(#gstem)"/>
<path d="M217,412V442" stroke="#101850" stroke-width="0.5" opacity="0.6"/>
</g>
<clipPath id="cp_d4"><path d="M210.8,459.9 C211.2,458.9 212.0,459.2 213.8,459.1 C215.6,459.0 219.5,459.2 221.4,459.4 C223.3,459.6 223.9,459.8 225.2,460.3 C226.5,460.8 228.1,461.4 229.0,462.2 C229.9,463.0 230.7,464.1 230.9,465.2 C231.1,466.3 230.2,467.7 230.2,469.0 C230.2,470.3 230.5,471.5 230.9,472.8 C231.3,474.1 232.1,475.3 232.4,476.6 C232.7,477.9 232.9,479.2 232.8,480.4 C232.7,481.5 231.5,482.5 231.8,483.5 C232.1,484.5 233.6,485.4 234.4,486.5 C235.2,487.6 236.3,489.0 236.6,490.3 C236.8,491.6 236.7,493.2 235.9,494.1 C235.2,495.0 233.5,495.2 232.1,495.6 C230.7,496.0 228.9,496.0 227.5,496.4 C226.1,496.8 224.6,497.1 223.7,497.9 C222.8,498.7 222.7,500.0 222.2,501.0 C221.7,502.0 221.6,503.3 220.7,504.0 C219.8,504.7 218.6,504.9 216.9,505.1 C215.2,505.4 212.6,505.6 210.8,505.5 C209.0,505.4 207.3,505.3 206.2,504.8 C205.0,504.3 204.3,503.5 203.9,502.5 C203.5,501.5 204.0,500.0 203.9,498.7 C203.8,497.4 203.8,496.0 203.2,494.9 C202.6,493.8 201.0,492.9 200.1,491.8 C199.2,490.7 198.3,489.4 197.8,488.0 C197.3,486.6 197.3,485.0 197.1,483.5 C196.9,482.0 196.6,480.4 196.8,478.9 C197.1,477.4 197.7,475.4 198.6,474.3 C199.5,473.2 201.0,472.6 202.4,472.1 C203.8,471.6 205.6,471.8 207.0,471.3 C208.4,470.8 210.1,470.0 210.8,469.0 C211.6,468.0 211.5,466.7 211.5,465.2 C211.5,463.7 210.4,460.9 210.8,459.9Z"/></clipPath>
<clipPath id="bb_d4"><rect x="196.3" y="459.5" width="42.2" height="46.3"/></clipPath>
<g clip-path="url(#bb_d4)">
<circle cx="217" cy="482" r="22" fill="none" stroke="#444" stroke-width="0.4" opacity="0.55"/>
<g clip-path="url(#cp_d4)"><rect x="196.3" y="459.5" width="42.2" height="46.3" fill="#3c47b0"/><ellipse cx="218" cy="482" rx="9.0" ry="10.0" fill="url(#gdark)"/><ellipse cx="228" cy="459.5" rx="9.75" ry="9.1" fill="url(#gjet)"/><ellipse cx="223" cy="468" rx="8.7" ry="5.8" fill="url(#ggrn)"/><ellipse cx="196.5" cy="478.5" rx="7.97" ry="9.42" fill="url(#gyel)"/><ellipse cx="203" cy="490.5" rx="7.25" ry="6.52" fill="url(#gyel)"/><ellipse cx="207" cy="508" rx="11.7" ry="8.45" fill="url(#gjs)"/><ellipse cx="206" cy="486" rx="11.7" ry="2.08" fill="url(#gcyan)" transform="rotate(10 206 486)"/><ellipse cx="213" cy="478" rx="9.1" ry="1.95" fill="url(#gcyan)" transform="rotate(-40 213 478)"/><ellipse cx="217" cy="495" rx="9.1" ry="1.95" fill="url(#gcyan)" transform="rotate(50 217 495)"/><ellipse cx="227" cy="489" rx="7.8" ry="1.95" fill="url(#gcyan)" transform="rotate(-70 227 489)"/><ellipse cx="220" cy="467" rx="5.2" ry="1.95" fill="url(#gcyan)" transform="rotate(-20 220 467)"/></g>


</g>
<clipPath id="cp_e1"><path d="M269.7,282.4 C270.7,281.1 271.7,279.8 273.0,279.2 C274.3,278.6 276.1,278.2 277.5,278.5 C278.9,278.8 280.6,279.8 281.4,281.1 C282.1,282.4 282.2,284.7 282.0,286.3 C281.8,287.9 280.3,289.4 280.1,290.8 C279.9,292.2 279.8,293.8 280.7,294.7 C281.6,295.6 283.7,295.4 285.3,296.0 C286.9,296.6 289.2,297.0 290.5,298.0 C291.8,299.0 292.8,300.5 293.1,301.9 C293.4,303.3 293.3,305.2 292.4,306.4 C291.5,307.6 289.5,308.2 287.9,309.0 C286.3,309.8 283.8,310.0 282.7,310.9 C281.6,311.8 281.6,312.8 281.4,314.2 C281.2,315.6 281.6,317.8 281.4,319.4 C281.2,321.0 281.0,322.7 280.1,323.9 C279.2,325.1 277.5,326.3 276.2,326.5 C274.9,326.7 273.2,326.0 272.3,325.2 C271.4,324.4 271.6,322.9 271.0,321.9 C270.4,320.9 269.7,319.9 268.4,319.4 C267.1,318.9 264.8,318.9 263.3,318.7 C261.8,318.5 260.9,318.4 259.4,318.1 C257.9,317.8 255.5,317.7 254.2,316.8 C252.9,315.9 251.9,314.3 251.6,312.9 C251.3,311.5 251.4,309.5 252.2,308.3 C252.9,307.1 255.6,306.7 256.1,305.7 C256.7,304.7 256.1,303.7 255.5,302.5 C254.8,301.3 253.0,300.3 252.2,298.6 C251.4,296.9 250.8,293.9 250.9,292.1 C251.0,290.3 251.7,288.6 252.9,287.6 C254.1,286.6 256.4,286.2 258.1,286.3 C259.8,286.4 261.8,288.2 263.3,288.3 C264.8,288.4 266.0,288.0 267.1,287.0 C268.2,286.0 268.7,283.7 269.7,282.4Z"/></clipPath>
<clipPath id="bb_e1"><rect x="249.8" y="275.3" width="44.6" height="52.0"/></clipPath>
<g clip-path="url(#bb_e1)">
<circle cx="272" cy="302" r="22" fill="none" stroke="#444" stroke-width="0.4" opacity="0.55"/>
<g clip-path="url(#cp_e1)"><rect x="249.8" y="275.3" width="44.6" height="52.0" fill="#3842aa"/><ellipse cx="269" cy="301" rx="13.0" ry="13.0" fill="url(#gdark)"/><ellipse cx="276.5" cy="277" rx="11.7" ry="13.0" fill="url(#gjet)"/><ellipse cx="249" cy="291" rx="13.0" ry="11.05" fill="url(#gjet)"/><ellipse cx="295" cy="302" rx="13.0" ry="11.05" fill="url(#gjet)" opacity="0.9"/><ellipse cx="250" cy="315" rx="13.0" ry="11.05" fill="url(#gjs)"/><ellipse cx="276" cy="328.5" rx="12.35" ry="12.35" fill="url(#gjet)"/><ellipse cx="267.5" cy="307.5" rx="5.0" ry="6.5" fill="url(#glite)"/></g>

<path d="M270,275.8c-1.5,1 0,2.5 1,2c1,1 -1,2.5 -1,3" stroke="#2040b0" stroke-width="1.1" fill="none"/>
</g>
<clipPath id="cp_e2"><path d="M269.6,337.9 C270.5,337.0 273.9,337.5 274.9,337.9 C275.9,338.3 275.2,340.0 275.7,340.2 C276.2,340.4 277.1,339.1 277.9,339.0 C278.7,338.9 279.9,339.1 280.7,339.5 C281.5,339.9 282.1,340.7 282.5,341.7 C282.9,342.7 282.9,344.4 282.8,345.5 C282.7,346.6 281.8,347.7 281.7,348.6 C281.6,349.5 282.0,350.1 282.5,350.9 C283.0,351.6 283.8,352.4 284.8,353.1 C285.8,353.9 287.6,354.4 288.6,355.4 C289.6,356.4 290.4,357.9 290.9,359.2 C291.4,360.5 291.6,361.7 291.6,363.0 C291.6,364.3 291.4,365.7 290.9,366.8 C290.4,367.9 289.5,369.1 288.6,369.9 C287.7,370.7 286.4,370.9 285.5,371.4 C284.6,371.9 283.8,372.1 283.3,372.9 C282.8,373.7 282.5,374.9 282.5,376.0 C282.5,377.1 283.3,378.5 283.3,379.8 C283.3,381.1 283.0,382.6 282.5,383.6 C282.0,384.6 281.1,385.4 280.2,385.8 C279.3,386.2 278.1,386.4 277.2,386.2 C276.3,385.9 275.4,385.1 274.9,384.3 C274.4,383.5 274.6,382.1 274.1,381.3 C273.6,380.6 273.0,380.2 271.9,379.8 C270.8,379.4 268.8,379.3 267.3,379.0 C265.8,378.7 264.4,378.4 262.7,378.2 C261.0,377.9 258.9,377.9 257.4,377.5 C255.9,377.1 254.5,376.9 253.6,376.0 C252.7,375.1 252.3,373.5 252.1,372.2 C251.9,370.9 252.0,369.5 252.4,368.4 C252.8,367.2 253.8,366.2 254.4,365.3 C255.0,364.4 255.9,363.6 255.9,363.0 C255.9,362.4 255.0,362.2 254.4,361.5 C253.8,360.8 252.8,359.8 252.4,358.5 C252.0,357.2 251.9,355.2 252.1,353.9 C252.3,352.6 252.7,351.8 253.6,350.9 C254.5,350.0 255.9,349.1 257.4,348.6 C258.9,348.1 261.0,348.2 262.7,347.8 C264.4,347.4 266.1,347.1 267.3,346.3 C268.5,345.6 269.2,344.7 269.6,343.3 C270.0,341.9 268.7,338.8 269.6,337.9Z"/></clipPath>
<clipPath id="bb_e2"><rect x="251.3" y="337.9" width="41.9" height="51.1"/></clipPath>
<g clip-path="url(#bb_e2)">
<circle cx="272" cy="362" r="22" fill="none" stroke="#444" stroke-width="0.4" opacity="0.55"/>
<g clip-path="url(#cp_e2)"><rect x="251.3" y="337.9" width="41.9" height="51.1" fill="#3c47b0"/><ellipse cx="274" cy="364" rx="9.0" ry="10.0" fill="url(#gdark)"/><ellipse cx="278.5" cy="337" rx="11.05" ry="13.65" fill="url(#gjet)"/><ellipse cx="249.5" cy="352.5" rx="18.2" ry="9.75" fill="url(#gjs)"/><ellipse cx="257" cy="354" rx="11.6" ry="7.25" fill="url(#gyel)"/><ellipse cx="250" cy="372.5" rx="18.2" ry="9.75" fill="url(#gjs)"/><ellipse cx="257.5" cy="372" rx="11.6" ry="7.25" fill="url(#gyel)"/><ellipse cx="290" cy="362.5" rx="9.1" ry="11.7" fill="url(#gcyan)"/><ellipse cx="277" cy="389.5" rx="11.7" ry="13.0" fill="url(#gjet)"/><ellipse cx="262" cy="357" rx="4.5" ry="1.3" fill="url(#gwhite)"/><ellipse cx="263" cy="373" rx="4.0" ry="1.5" fill="url(#gwhite)"/></g>
<rect x="269.1" y="337.9" width="5.2" height="6.8" fill="url(#gstem)"/>

</g>
<clipPath id="cp_e3"><path d="M269.1,397.4 C270.0,396.5 273.4,397.0 274.4,397.4 C275.4,397.8 274.7,399.5 275.2,399.7 C275.7,399.9 276.6,398.6 277.4,398.5 C278.2,398.4 279.4,398.6 280.2,399.0 C281.0,399.4 281.6,400.2 282.0,401.2 C282.4,402.2 282.4,403.9 282.3,405.0 C282.2,406.1 281.2,407.2 281.2,408.1 C281.1,409.0 281.5,409.6 282.0,410.4 C282.5,411.1 283.3,411.9 284.3,412.6 C285.3,413.4 287.1,413.9 288.1,414.9 C289.1,415.9 289.9,417.4 290.4,418.7 C290.9,420.0 291.1,421.2 291.1,422.5 C291.1,423.8 290.9,425.2 290.4,426.3 C289.9,427.4 289.0,428.6 288.1,429.4 C287.2,430.2 285.9,430.4 285.0,430.9 C284.1,431.4 283.3,431.6 282.8,432.4 C282.3,433.2 282.0,434.4 282.0,435.5 C282.0,436.6 282.8,438.0 282.8,439.3 C282.8,440.6 282.5,442.1 282.0,443.1 C281.5,444.1 280.6,444.9 279.7,445.3 C278.8,445.7 277.6,445.9 276.7,445.7 C275.8,445.4 274.9,444.6 274.4,443.8 C273.9,443.0 274.1,441.6 273.6,440.8 C273.1,440.1 272.5,439.7 271.4,439.3 C270.3,438.9 268.3,438.8 266.8,438.5 C265.3,438.2 263.9,437.9 262.2,437.7 C260.5,437.4 258.4,437.4 256.9,437.0 C255.4,436.6 254.0,436.4 253.1,435.5 C252.2,434.6 251.8,433.0 251.6,431.7 C251.4,430.4 251.5,429.0 251.9,427.9 C252.3,426.8 253.3,425.7 253.9,424.8 C254.5,423.9 255.4,423.1 255.4,422.5 C255.4,421.9 254.5,421.8 253.9,421.0 C253.3,420.2 252.3,419.3 251.9,418.0 C251.5,416.7 251.4,414.7 251.6,413.4 C251.8,412.1 252.2,411.3 253.1,410.4 C254.0,409.5 255.4,408.6 256.9,408.1 C258.4,407.6 260.5,407.7 262.2,407.3 C263.9,406.9 265.6,406.6 266.8,405.8 C268.0,405.1 268.7,404.2 269.1,402.8 C269.5,401.4 268.2,398.3 269.1,397.4Z"/></clipPath>
<clipPath id="bb_e3"><rect x="251.3" y="396.4" width="41.7" height="50.9"/></clipPath>
<g clip-path="url(#bb_e3)">
<circle cx="271.5" cy="421.5" r="22" fill="none" stroke="#444" stroke-width="0.4" opacity="0.55"/>
<g clip-path="url(#cp_e3)"><rect x="251.3" y="396.4" width="41.7" height="50.9" fill="#3c47b0"/><ellipse cx="274" cy="423" rx="9.0" ry="10.0" fill="url(#gdark)"/><ellipse cx="278" cy="396.5" rx="11.05" ry="13.65" fill="url(#gjet)"/><ellipse cx="249.5" cy="412" rx="18.2" ry="9.75" fill="url(#gjs)"/><ellipse cx="257" cy="413.5" rx="11.6" ry="7.25" fill="url(#gyel)"/><ellipse cx="250" cy="432" rx="18.2" ry="9.75" fill="url(#gjs)"/><ellipse cx="257.5" cy="431.5" rx="11.6" ry="7.25" fill="url(#gyel)"/><ellipse cx="290" cy="422" rx="9.1" ry="11.7" fill="url(#gcyan)"/><ellipse cx="277" cy="449" rx="11.7" ry="13.0" fill="url(#gjet)"/><ellipse cx="262" cy="416" rx="4.5" ry="1.3" fill="url(#gwhite)"/><ellipse cx="263" cy="432.5" rx="4.0" ry="1.5" fill="url(#gwhite)"/></g>
<rect x="267.8" y="396.5" width="5.8" height="7.5" fill="url(#gstem)"/>

</g>
<clipPath id="cp_e4"><path d="M264.3,458.7 C264.7,457.7 265.4,456.9 266.5,456.4 C267.6,455.9 269.5,455.7 271.1,455.6 C272.8,455.5 274.9,455.7 276.4,456.0 C277.9,456.3 279.2,456.5 280.2,457.2 C281.2,457.9 282.1,459.1 282.5,460.2 C282.9,461.3 282.9,462.7 282.8,464.0 C282.7,465.3 281.6,466.8 281.7,467.8 C281.8,468.8 282.4,469.5 283.3,470.1 C284.2,470.7 286.0,470.8 287.1,471.6 C288.2,472.4 289.3,473.6 290.1,474.7 C290.9,475.8 291.5,477.2 291.9,478.5 C292.3,479.8 292.5,481.0 292.4,482.3 C292.3,483.6 291.9,485.0 291.3,486.1 C290.7,487.2 289.7,488.4 288.6,489.1 C287.5,489.9 285.8,490.0 284.8,490.6 C283.8,491.2 282.9,492.0 282.5,492.9 C282.1,493.8 282.4,494.9 282.5,496.0 C282.6,497.1 283.3,498.5 283.3,499.8 C283.3,501.1 283.1,502.6 282.5,503.6 C281.9,504.6 280.6,505.5 279.5,505.8 C278.4,506.1 276.7,505.9 275.7,505.5 C274.7,505.1 274.0,504.4 273.4,503.6 C272.8,502.8 272.9,501.1 271.9,500.5 C270.9,499.9 269.1,500.1 267.3,499.8 C265.5,499.6 263.1,499.4 261.2,499.0 C259.3,498.6 257.3,498.3 255.9,497.5 C254.5,496.7 253.4,495.7 252.8,494.4 C252.2,493.1 252.0,491.3 252.1,489.9 C252.2,488.5 253.1,487.1 253.6,486.1 C254.1,485.1 255.2,484.7 255.1,483.8 C255.0,482.9 253.4,482.0 252.8,480.7 C252.2,479.4 251.8,477.6 251.8,476.2 C251.8,474.8 252.0,473.5 252.8,472.4 C253.6,471.2 255.2,469.9 256.6,469.3 C258.0,468.7 259.9,469.1 261.2,468.6 C262.5,468.1 263.9,467.3 264.3,466.3 C264.8,465.3 263.9,463.8 263.9,462.5 C263.9,461.2 263.9,459.7 264.3,458.7Z"/></clipPath>
<clipPath id="bb_e4"><rect x="251.3" y="456.4" width="41.7" height="49.4"/></clipPath>
<g clip-path="url(#bb_e4)">
<circle cx="272" cy="481" r="22" fill="none" stroke="#444" stroke-width="0.4" opacity="0.55"/>
<g clip-path="url(#cp_e4)"><rect x="251.3" y="456.4" width="41.7" height="49.4" fill="#3c47b0"/><ellipse cx="266" cy="481" rx="9.0" ry="8.0" fill="url(#gdark)"/><ellipse cx="271" cy="461.5" rx="9.0" ry="7.0" fill="url(#glite)"/><ellipse cx="269.6" cy="460.5" rx="3.0" ry="3.0" fill="url(#gdark)"/><ellipse cx="280" cy="456" rx="9.75" ry="9.1" fill="url(#gjet)"/><ellipse cx="288" cy="481" rx="13.78" ry="15.22" fill="url(#gyel)"/><ellipse cx="251.5" cy="475.5" rx="8.7" ry="8.7" fill="url(#gyel)"/><ellipse cx="253" cy="490.5" rx="6.0" ry="5.0" fill="url(#glite)"/><ellipse cx="278.5" cy="508" rx="11.7" ry="11.05" fill="url(#gjet)"/><ellipse cx="266" cy="490" rx="10.4" ry="2.08" fill="url(#gcyan)" transform="rotate(-40 266 490)"/></g>


</g>
<clipPath id="cp_f1"><path d="M313.8,277.9 C315.1,277.0 317.3,276.0 319.0,275.9 C320.7,275.8 322.6,276.2 324.1,277.2 C325.6,278.2 327.1,280.5 328.0,281.8 C328.9,283.1 328.7,284.1 329.3,285.0 C329.9,285.9 330.6,286.4 331.9,287.0 C333.2,287.6 335.4,287.8 337.1,288.3 C338.8,288.8 340.8,289.4 342.3,290.2 C343.8,291.0 345.0,292.2 346.2,293.4 C347.4,294.6 348.6,296.0 349.4,297.3 C350.1,298.6 350.7,299.9 350.7,301.2 C350.7,302.5 350.3,303.8 349.4,305.1 C348.5,306.4 347.0,307.9 345.5,309.0 C344.0,310.1 342.1,311.0 340.3,311.6 C338.5,312.2 336.1,312.2 334.5,312.9 C332.9,313.5 331.6,314.4 330.6,315.5 C329.6,316.6 329.7,318.1 328.7,319.4 C327.7,320.7 326.4,322.3 324.8,323.2 C323.2,324.1 320.8,324.6 319.0,324.5 C317.2,324.4 315.2,323.6 313.8,322.6 C312.4,321.6 311.3,320.3 310.5,318.7 C309.7,317.1 309.3,314.9 309.2,312.9 C309.1,310.8 309.8,308.6 309.9,306.4 C310.0,304.2 310.0,302.1 309.9,299.9 C309.8,297.7 309.2,295.8 309.2,293.4 C309.2,291.0 309.6,287.8 309.9,285.7 C310.2,283.6 310.5,282.4 311.2,281.1 C311.9,279.8 312.5,278.8 313.8,277.9Z"/></clipPath>
<clipPath id="bb_f1"><rect x="306.5" y="275" width="44.8" height="52.2"/></clipPath>
<g clip-path="url(#bb_f1)">

<g clip-path="url(#cp_f1)"><rect x="306.5" y="275" width="44.8" height="52.2" fill="#8cd494"/><path d="M323.2,293.2 L334.2,301.0 L323.2,308.8Z" fill="#2a66d8" stroke="#4cc4e4" stroke-width="8.5" stroke-linejoin="round" filter="url(#bl1)"/><path d="M323.2,293.2 L334.2,301.0 L323.2,308.8Z" fill="#1c30a8" stroke="#2350c8" stroke-width="4.5" stroke-linejoin="round" filter="url(#bl1)"/><ellipse cx="316.2" cy="281.2" rx="8.5" ry="7.0" fill="url(#gfred)" transform="rotate(-20 316.2 281.2)"/><ellipse cx="332.8" cy="290.2" rx="7.5" ry="6.5" fill="url(#gfred)" transform="rotate(30 332.8 290.2)"/><ellipse cx="314.5" cy="300.6" rx="7.0" ry="8.5" fill="url(#gfred)"/><ellipse cx="347.2" cy="301.0" rx="7.0" ry="9.0" fill="url(#gfred)"/><ellipse cx="332.8" cy="311.6" rx="7.5" ry="6.5" fill="url(#gfred)" transform="rotate(-30 332.8 311.6)"/><ellipse cx="316.2" cy="319.8" rx="8.5" ry="7.0" fill="url(#gfred)" transform="rotate(20 316.2 319.8)"/><ellipse cx="326.1" cy="281.1" rx="5.0" ry="4.5" fill="url(#gfblue)"/><ellipse cx="311.0" cy="290.2" rx="5.0" ry="4.5" fill="url(#gfblue)"/><ellipse cx="342.3" cy="290.8" rx="5.0" ry="4.5" fill="url(#gfblue)"/><ellipse cx="311.0" cy="310.6" rx="5.0" ry="4.5" fill="url(#gfblue)"/><ellipse cx="342.3" cy="310.3" rx="5.0" ry="4.5" fill="url(#gfblue)"/><ellipse cx="326.1" cy="319.6" rx="5.0" ry="4.5" fill="url(#gfblue)"/></g>

<path d="M325.6,275V281" stroke="#2030a0" stroke-width="1"/><circle cx="328.5" cy="300.5" r="22" fill="none" stroke="#444" stroke-width="0.4" opacity="0.55"/>
</g>
<clipPath id="cp_f2"><path d="M314.6,335.9 C315.9,335.0 318.1,334.0 319.8,333.9 C321.5,333.8 323.4,334.2 324.9,335.2 C326.4,336.2 327.9,338.5 328.8,339.8 C329.7,341.1 329.5,342.1 330.1,343.0 C330.8,343.9 331.4,344.4 332.7,345.0 C334.0,345.6 336.2,345.8 337.9,346.3 C339.6,346.8 341.6,347.4 343.1,348.2 C344.6,349.0 345.8,350.2 347.0,351.4 C348.2,352.6 349.4,354.0 350.2,355.3 C350.9,356.6 351.5,357.9 351.5,359.2 C351.5,360.5 351.1,361.8 350.2,363.1 C349.3,364.4 347.8,365.9 346.3,367.0 C344.8,368.1 342.9,369.0 341.1,369.6 C339.3,370.2 336.9,370.2 335.3,370.9 C333.7,371.5 332.4,372.4 331.4,373.5 C330.4,374.6 330.5,376.1 329.5,377.4 C328.5,378.7 327.2,380.3 325.6,381.2 C324.0,382.1 321.6,382.6 319.8,382.5 C318.0,382.4 316.0,381.6 314.6,380.6 C313.2,379.6 312.1,378.3 311.3,376.7 C310.5,375.1 310.1,372.9 310.0,370.9 C309.9,368.8 310.6,366.6 310.7,364.4 C310.8,362.2 310.8,360.1 310.7,357.9 C310.6,355.7 310.0,353.8 310.0,351.4 C310.0,349.0 310.4,345.8 310.7,343.7 C311.0,341.6 311.4,340.4 312.0,339.1 C312.6,337.8 313.3,336.8 314.6,335.9Z"/></clipPath>
<clipPath id="bb_f2"><rect x="308.7" y="331" width="42.6" height="51.5"/></clipPath>
<g clip-path="url(#bb_f2)">

<g clip-path="url(#cp_f2)"><rect x="308.7" y="331" width="42.6" height="51.5" fill="#8cd494"/><path d="M324.0,351.2 L335.0,359.0 L324.0,366.8Z" fill="#2a66d8" stroke="#4cc4e4" stroke-width="8.5" stroke-linejoin="round" filter="url(#bl1)"/><path d="M324.0,351.2 L335.0,359.0 L324.0,366.8Z" fill="#1c30a8" stroke="#2350c8" stroke-width="4.5" stroke-linejoin="round" filter="url(#bl1)"/><ellipse cx="317.0" cy="339.2" rx="8.5" ry="7.0" fill="url(#gfred)" transform="rotate(-20 317.0 339.2)"/><ellipse cx="333.6" cy="348.2" rx="7.5" ry="6.5" fill="url(#gfred)" transform="rotate(30 333.6 348.2)"/><ellipse cx="315.3" cy="358.6" rx="7.0" ry="8.5" fill="url(#gfred)"/><ellipse cx="348.0" cy="359.0" rx="7.0" ry="9.0" fill="url(#gfred)"/><ellipse cx="333.6" cy="369.6" rx="7.5" ry="6.5" fill="url(#gfred)" transform="rotate(-30 333.6 369.6)"/><ellipse cx="317.0" cy="377.8" rx="8.5" ry="7.0" fill="url(#gfred)" transform="rotate(20 317.0 377.8)"/><ellipse cx="326.90000000000003" cy="339.1" rx="5.0" ry="4.5" fill="url(#gfblue)"/><ellipse cx="311.8" cy="348.2" rx="5.0" ry="4.5" fill="url(#gfblue)"/><ellipse cx="343.1" cy="348.8" rx="5.0" ry="4.5" fill="url(#gfblue)"/><ellipse cx="311.8" cy="368.6" rx="5.0" ry="4.5" fill="url(#gfblue)"/><ellipse cx="343.1" cy="368.3" rx="5.0" ry="4.5" fill="url(#gfblue)"/><ellipse cx="326.90000000000003" cy="377.6" rx="5.0" ry="4.5" fill="url(#gfblue)"/></g>
<rect x="324.4" y="331" width="3" height="6.5" fill="url(#gstem)"/>
<circle cx="329.3" cy="358.5" r="22" fill="none" stroke="#444" stroke-width="0.4" opacity="0.55"/>
</g>
<clipPath id="cp_f3"><path d="M314.6,397.9 C315.9,397.0 318.1,396.0 319.8,395.9 C321.5,395.8 323.4,396.2 324.9,397.2 C326.4,398.2 327.9,400.5 328.8,401.8 C329.7,403.1 329.5,404.1 330.1,405.0 C330.8,405.9 331.4,406.4 332.7,407.0 C334.0,407.6 336.2,407.8 337.9,408.3 C339.6,408.8 341.6,409.4 343.1,410.2 C344.6,411.0 345.8,412.2 347.0,413.4 C348.2,414.6 349.4,416.0 350.2,417.3 C350.9,418.6 351.5,419.9 351.5,421.2 C351.5,422.5 351.1,423.8 350.2,425.1 C349.3,426.4 347.8,427.9 346.3,429.0 C344.8,430.1 342.9,431.0 341.1,431.6 C339.3,432.2 336.9,432.2 335.3,432.9 C333.7,433.5 332.4,434.4 331.4,435.5 C330.4,436.6 330.5,438.1 329.5,439.4 C328.5,440.7 327.2,442.3 325.6,443.2 C324.0,444.1 321.6,444.6 319.8,444.5 C318.0,444.4 316.0,443.6 314.6,442.6 C313.2,441.6 312.1,440.3 311.3,438.7 C310.5,437.1 310.1,434.9 310.0,432.9 C309.9,430.8 310.6,428.6 310.7,426.4 C310.8,424.2 310.8,422.1 310.7,419.9 C310.6,417.7 310.0,415.8 310.0,413.4 C310.0,411.0 310.4,407.8 310.7,405.7 C311.0,403.6 311.4,402.4 312.0,401.1 C312.6,399.8 313.3,398.8 314.6,397.9Z"/></clipPath>
<clipPath id="bb_f3"><rect x="308.7" y="391" width="42.6" height="55.2"/></clipPath>
<g clip-path="url(#bb_f3)">

<g clip-path="url(#cp_f3)"><rect x="308.7" y="391" width="42.6" height="55.2" fill="#8cd494"/><path d="M324.0,413.2 L335.0,421.0 L324.0,428.8Z" fill="#2a66d8" stroke="#4cc4e4" stroke-width="8.5" stroke-linejoin="round" filter="url(#bl1)"/><path d="M324.0,413.2 L335.0,421.0 L324.0,428.8Z" fill="#1c30a8" stroke="#2350c8" stroke-width="4.5" stroke-linejoin="round" filter="url(#bl1)"/><ellipse cx="317.0" cy="401.2" rx="8.5" ry="7.0" fill="url(#gfred)" transform="rotate(-20 317.0 401.2)"/><ellipse cx="333.6" cy="410.2" rx="7.5" ry="6.5" fill="url(#gfred)" transform="rotate(30 333.6 410.2)"/><ellipse cx="315.3" cy="420.6" rx="7.0" ry="8.5" fill="url(#gfred)"/><ellipse cx="348.0" cy="421.0" rx="7.0" ry="9.0" fill="url(#gfred)"/><ellipse cx="333.6" cy="431.6" rx="7.5" ry="6.5" fill="url(#gfred)" transform="rotate(-30 333.6 431.6)"/><ellipse cx="317.0" cy="439.8" rx="8.5" ry="7.0" fill="url(#gfred)" transform="rotate(20 317.0 439.8)"/><ellipse cx="326.90000000000003" cy="401.1" rx="5.0" ry="4.5" fill="url(#gfblue)"/><ellipse cx="311.8" cy="410.2" rx="5.0" ry="4.5" fill="url(#gfblue)"/><ellipse cx="343.1" cy="410.8" rx="5.0" ry="4.5" fill="url(#gfblue)"/><ellipse cx="311.8" cy="430.6" rx="5.0" ry="4.5" fill="url(#gfblue)"/><ellipse cx="343.1" cy="430.3" rx="5.0" ry="4.5" fill="url(#gfblue)"/><ellipse cx="326.90000000000003" cy="439.6" rx="5.0" ry="4.5" fill="url(#gfblue)"/></g>
<rect x="322.9" y="391" width="8.2" height="8.5" fill="url(#gstem)"/>
<circle cx="329.3" cy="420.5" r="22" fill="none" stroke="#444" stroke-width="0.4" opacity="0.55"/>
</g>
<clipPath id="cp_f4"><path d="M314.6,457.9 C315.9,457.0 318.1,456.0 319.8,455.9 C321.5,455.8 323.4,456.2 324.9,457.2 C326.4,458.2 327.9,460.5 328.8,461.8 C329.7,463.1 329.5,464.1 330.1,465.0 C330.8,465.9 331.4,466.4 332.7,467.0 C334.0,467.6 336.2,467.8 337.9,468.3 C339.6,468.8 341.6,469.4 343.1,470.2 C344.6,471.0 345.8,472.2 347.0,473.4 C348.2,474.6 349.4,476.0 350.2,477.3 C350.9,478.6 351.5,479.9 351.5,481.2 C351.5,482.5 351.1,483.8 350.2,485.1 C349.3,486.4 347.8,487.9 346.3,489.0 C344.8,490.1 342.9,491.0 341.1,491.6 C339.3,492.2 336.9,492.2 335.3,492.9 C333.7,493.5 332.4,494.4 331.4,495.5 C330.4,496.6 330.5,498.1 329.5,499.4 C328.5,500.7 327.2,502.3 325.6,503.2 C324.0,504.1 321.6,504.6 319.8,504.5 C318.0,504.4 316.0,503.6 314.6,502.6 C313.2,501.6 312.1,500.3 311.3,498.7 C310.5,497.1 310.1,494.9 310.0,492.9 C309.9,490.8 310.6,488.6 310.7,486.4 C310.8,484.2 310.8,482.1 310.7,479.9 C310.6,477.7 310.0,475.8 310.0,473.4 C310.0,471.0 310.4,467.8 310.7,465.7 C311.0,463.6 311.4,462.4 312.0,461.1 C312.6,459.8 313.3,458.8 314.6,457.9Z"/></clipPath>
<clipPath id="bb_f4"><rect x="308.7" y="451.7" width="42.6" height="54.5"/></clipPath>
<g clip-path="url(#bb_f4)">

<g clip-path="url(#cp_f4)"><rect x="308.7" y="451.7" width="42.6" height="54.5" fill="#8cd494"/><path d="M324.0,473.2 L335.0,481.0 L324.0,488.8Z" fill="#2a66d8" stroke="#4cc4e4" stroke-width="8.5" stroke-linejoin="round" filter="url(#bl1)"/><path d="M324.0,473.2 L335.0,481.0 L324.0,488.8Z" fill="#1c30a8" stroke="#2350c8" stroke-width="4.5" stroke-linejoin="round" filter="url(#bl1)"/><ellipse cx="317.0" cy="461.2" rx="8.5" ry="7.0" fill="url(#gfred)" transform="rotate(-20 317.0 461.2)"/><ellipse cx="333.6" cy="470.2" rx="7.5" ry="6.5" fill="url(#gfred)" transform="rotate(30 333.6 470.2)"/><ellipse cx="315.3" cy="480.6" rx="7.0" ry="8.5" fill="url(#gfred)"/><ellipse cx="348.0" cy="481.0" rx="7.0" ry="9.0" fill="url(#gfred)"/><ellipse cx="333.6" cy="491.6" rx="7.5" ry="6.5" fill="url(#gfred)" transform="rotate(-30 333.6 491.6)"/><ellipse cx="317.0" cy="499.8" rx="8.5" ry="7.0" fill="url(#gfred)" transform="rotate(20 317.0 499.8)"/><ellipse cx="326.90000000000003" cy="461.1" rx="5.0" ry="4.5" fill="url(#gfblue)"/><ellipse cx="311.8" cy="470.2" rx="5.0" ry="4.5" fill="url(#gfblue)"/><ellipse cx="343.1" cy="470.8" rx="5.0" ry="4.5" fill="url(#gfblue)"/><ellipse cx="311.8" cy="490.6" rx="5.0" ry="4.5" fill="url(#gfblue)"/><ellipse cx="343.1" cy="490.3" rx="5.0" ry="4.5" fill="url(#gfblue)"/><ellipse cx="326.90000000000003" cy="499.6" rx="5.0" ry="4.5" fill="url(#gfblue)"/></g>
<rect x="325.1" y="452.2" width="6" height="7.5" fill="url(#gstem)"/>
<circle cx="329.3" cy="480.5" r="22" fill="none" stroke="#444" stroke-width="0.4" opacity="0.55"/>
</g>
<rect x="82.8" y="272.8" width="49.2" height="234.8" fill="none" stroke="#151515" stroke-width="2.8"/>
<rect x="137.3" y="274.0" width="49.1" height="235.0" fill="none" stroke="#d42424" stroke-width="2.8"/>
<rect x="192.8" y="273.8" width="47.6" height="234.5" fill="none" stroke="#2c3494" stroke-width="2.8"/>
<rect x="248.2" y="273.0" width="48.2" height="234.4" fill="none" stroke="#8046a4" stroke-width="2.8"/>
<rect x="304.6" y="272.8" width="49.1" height="234.7" fill="none" stroke="#4e7e30" stroke-width="2.8"/>
<g font-family="Liberation Serif, serif" font-size="18.8" fill="#1a1a1a">
<text x="4.3" y="306.0" font-style="italic">t</text><text x="39.0" y="306.0" textLength="34.6" lengthAdjust="spacingAndGlyphs">0.01</text>
<rect x="19.7" y="297.3" width="12.2" height="1.6" fill="#2a2a2a"/><rect x="19.7" y="301.4" width="12.2" height="1.6" fill="#2a2a2a"/>
<text x="0.9" y="367.2" font-style="italic">t</text><text x="35.6" y="367.2" textLength="34.6" lengthAdjust="spacingAndGlyphs">0.15</text>
<rect x="15.2" y="358.5" width="12.2" height="1.6" fill="#2a2a2a"/><rect x="15.2" y="362.6" width="12.2" height="1.6" fill="#2a2a2a"/>
<text x="-0.2" y="491.2" font-style="italic">t</text><text x="33.4" y="491.2" textLength="46.8" lengthAdjust="spacingAndGlyphs">0.305</text>
<rect x="14.0" y="482.5" width="12.2" height="1.6" fill="#2a2a2a"/><rect x="14.0" y="486.6" width="12.2" height="1.6" fill="#2a2a2a"/>
<text x="0.9" y="423.2" font-style="italic">t</text>
<rect x="15.2" y="414.5" width="12.2" height="1.6" fill="#2a2a2a"/><rect x="15.2" y="418.6" width="12.2" height="1.6" fill="#2a2a2a"/>
<path d="M36.9,410.6V420.1Q36.9,422.9 39.6,422.9H41.2M34.5,414.7H41.1" stroke="#1e1e1e" stroke-width="1.45" fill="none"/>
<text x="41.6" y="428.4" font-style="italic" font-size="14.8" textLength="37" lengthAdjust="spacingAndGlyphs">Qmax</text>
</g>
<g font-family="Liberation Sans, sans-serif" font-size="18.8" fill="#1a1a1a">
<text x="95.2" y="525.8" textLength="24.6" lengthAdjust="spacingAndGlyphs">(b)</text>
<text x="153.5" y="525.8" textLength="21.4" lengthAdjust="spacingAndGlyphs">(c)</text>
<text x="207.0" y="525.8" textLength="24.8" lengthAdjust="spacingAndGlyphs">(d)</text>
<text x="259.4" y="525.8" textLength="24.0" lengthAdjust="spacingAndGlyphs">(e)</text>
<text x="317.3" y="525.8" textLength="19.6" lengthAdjust="spacingAndGlyphs">(f)</text>
</g>
</svg></body></html>
